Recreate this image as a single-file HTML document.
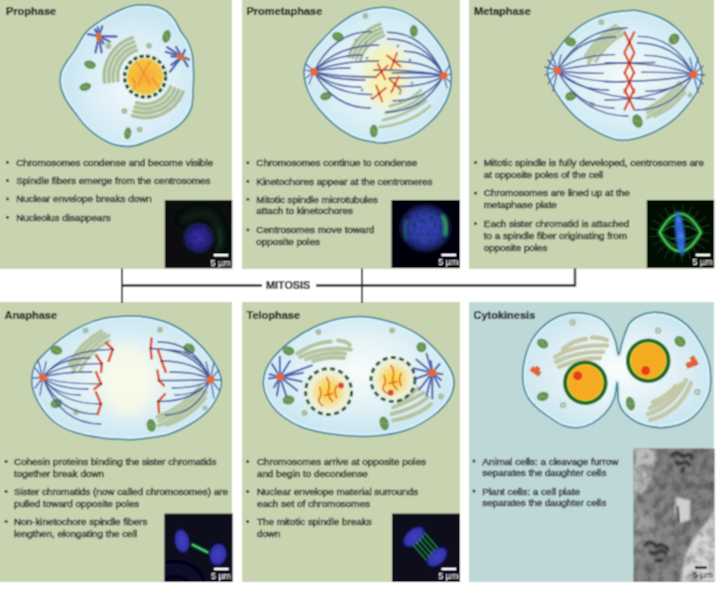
<!DOCTYPE html>
<html><head><meta charset="utf-8"><style>
html,body{margin:0;padding:0;background:#fff;}
svg{display:block;}

.ttl{font-family:"Liberation Sans",sans-serif;font-weight:bold;font-size:11px;fill:#161616;stroke:#161616;stroke-width:0.2px;}
.bt{font-family:"Liberation Sans",sans-serif;font-size:9.9px;fill:#2e2e2e;stroke:#2e2e2e;stroke-width:0.45px;}
.sb{font-family:"Liberation Sans",sans-serif;font-size:9px;fill:#fff;}
</style></head><body>
<svg width="720" height="594" viewBox="0 0 720 594">
<defs><filter id="soft" filterUnits="userSpaceOnUse" x="0" y="0" width="720" height="594"><feConvolveMatrix order="3" kernelMatrix="1 2 1 2 4 2 1 2 1" divisor="16" edgeMode="duplicate"/></filter></defs>
<g filter="url(#soft)"><rect x="0" y="0" width="720" height="594" fill="#fff"/>
<rect x="0" y="0" width="232" height="269" fill="#c8d4b0"/>
<rect x="242" y="0" width="218" height="269" fill="#c8d4b0"/>
<rect x="469" y="0" width="245" height="269" fill="#c8d4b0"/>
<rect x="0" y="302" width="232" height="280" fill="#c8d4b0"/>
<rect x="242" y="302" width="218" height="280" fill="#c8d4b0"/>
<rect x="469" y="302" width="245" height="280" fill="#bed8d8"/>
<text x="6" y="15" class="ttl">Prophase</text>
<text x="246.5" y="15" class="ttl">Prometaphase</text>
<text x="474" y="15" class="ttl">Metaphase</text>
<text x="4.5" y="319" class="ttl">Anaphase</text>
<text x="246.5" y="319" class="ttl">Telophase</text>
<text x="473.5" y="319" class="ttl">Cytokinesis</text>
<rect x="6.2" y="161.0" width="2.6" height="2.6" fill="#2e2e2e"/>
<text x="16.2" y="165.5" class="bt">Chromosomes condense and become visible</text>
<rect x="6.2" y="179.4" width="2.6" height="2.6" fill="#2e2e2e"/>
<text x="16.2" y="183.9" class="bt">Spindle fibers emerge from the centrosomes</text>
<rect x="6.2" y="197.7" width="2.6" height="2.6" fill="#2e2e2e"/>
<text x="16.2" y="202.2" class="bt">Nuclear envelope breaks down</text>
<rect x="6.2" y="216.0" width="2.6" height="2.6" fill="#2e2e2e"/>
<text x="16.2" y="220.5" class="bt">Nucleolus disappears</text>
<rect x="246.6" y="161.5" width="2.6" height="2.6" fill="#2e2e2e"/>
<text x="256.3" y="166.0" class="bt">Chromosomes continue to condense</text>
<rect x="246.6" y="180.0" width="2.6" height="2.6" fill="#2e2e2e"/>
<text x="256.3" y="184.5" class="bt">Kinetochores appear at the centromeres</text>
<rect x="246.6" y="198.0" width="2.6" height="2.6" fill="#2e2e2e"/>
<text x="256.3" y="202.5" class="bt">Mitotic spindle microtubules</text>
<text x="256.3" y="214.4" class="bt">attach to kinetochores</text>
<rect x="246.6" y="228.6" width="2.6" height="2.6" fill="#2e2e2e"/>
<text x="256.3" y="233.1" class="bt">Centrosomes move toward</text>
<text x="256.3" y="245.0" class="bt">opposite poles</text>
<rect x="474.2" y="161.2" width="2.6" height="2.6" fill="#2e2e2e"/>
<text x="483.8" y="165.7" class="bt">Mitotic spindle is fully developed, centrosomes are</text>
<text x="483.8" y="177.6" class="bt">at opposite poles of the cell</text>
<rect x="474.2" y="191.8" width="2.6" height="2.6" fill="#2e2e2e"/>
<text x="483.8" y="196.3" class="bt">Chromosomes are lined up at the</text>
<text x="483.8" y="208.2" class="bt">metaphase plate</text>
<rect x="474.2" y="222.4" width="2.6" height="2.6" fill="#2e2e2e"/>
<text x="483.8" y="226.9" class="bt">Each sister chromatid is attached</text>
<text x="483.8" y="238.8" class="bt">to a spindle fiber originating from</text>
<text x="483.8" y="250.7" class="bt">opposite poles</text>
<circle cx="6.1" cy="461.5" r="1.5" fill="#2e2e2e"/>
<text x="14" y="465.0" class="bt">Cohesin proteins binding the sister chromatids</text>
<text x="14" y="476.9" class="bt">together break down</text>
<circle cx="6.1" cy="491.5" r="1.5" fill="#2e2e2e"/>
<text x="14" y="495.0" class="bt">Sister chromatids (now called chromosomes) are</text>
<text x="14" y="506.9" class="bt">pulled toward opposite poles</text>
<circle cx="6.1" cy="521.5" r="1.5" fill="#2e2e2e"/>
<text x="14" y="525.0" class="bt">Non-kinetochore spindle fibers</text>
<text x="14" y="536.9" class="bt">lengthen, elongating the cell</text>
<circle cx="247.7" cy="461.5" r="1.5" fill="#2e2e2e"/>
<text x="256.9" y="465.0" class="bt">Chromosomes arrive at opposite poles</text>
<text x="256.9" y="476.9" class="bt">and begin to decondense</text>
<circle cx="247.7" cy="491.5" r="1.5" fill="#2e2e2e"/>
<text x="256.9" y="495.0" class="bt">Nuclear envelope material surrounds</text>
<text x="256.9" y="506.9" class="bt">each set of chromosomes</text>
<circle cx="247.7" cy="521.5" r="1.5" fill="#2e2e2e"/>
<text x="256.9" y="525.0" class="bt">The mitotic spindle breaks</text>
<text x="256.9" y="536.9" class="bt">down</text>
<circle cx="474" cy="461.0" r="1.5" fill="#2e2e2e"/>
<text x="482.3" y="464.5" class="bt">Animal cells: a cleavage furrow</text>
<text x="482.3" y="476.4" class="bt">separates the daughter cells</text>
<circle cx="474" cy="491.0" r="1.5" fill="#2e2e2e"/>
<text x="482.3" y="494.5" class="bt">Plant cells: a cell plate</text>
<text x="482.3" y="506.4" class="bt">separates the daughter cells</text>
<g stroke="#2b2b2b" fill="none">
<line x1="122" y1="268.5" x2="122" y2="303" stroke-width="2"/>
<line x1="362" y1="268.5" x2="362" y2="303" stroke-width="2"/>
<polyline points="122,285.5 262,285.5" stroke-width="2.4"/>
<polyline points="316,285.5 575,285.5 575,268.5" stroke-width="2.4"/>
</g>
<text x="266" y="288.5" class="ttl" style="font-size:10.8px">MITOSIS</text>
<defs>
<radialGradient id="g1" cx="0.5" cy="0.5" r="0.5"><stop offset="0" stop-color="#3b33b8"/><stop offset="0.6" stop-color="#2a2590"/><stop offset="1" stop-color="#101040" stop-opacity="0"/></radialGradient>
<radialGradient id="gb" cx="0.5" cy="0.5" r="0.5"><stop offset="0" stop-color="#3f55d8"/><stop offset="0.7" stop-color="#2d3cb0"/><stop offset="1" stop-color="#1a2070" stop-opacity="0"/></radialGradient>
<filter id="bl1" x="-50%" y="-50%" width="200%" height="200%"><feGaussianBlur stdDeviation="1.5"/></filter>
<filter id="bl2" x="-50%" y="-50%" width="200%" height="200%"><feGaussianBlur stdDeviation="0.8"/></filter>
<radialGradient id="cellg" cx="0.5" cy="0.5" r="0.6"><stop offset="0" stop-color="#f4fbf6"/><stop offset="0.45" stop-color="#dff1f6"/><stop offset="1" stop-color="#c3e2ee"/></radialGradient>
<radialGradient id="nucg" cx="0.5" cy="0.5" r="0.5"><stop offset="0" stop-color="#f6a93a"/><stop offset="1" stop-color="#f5c53f"/></radialGradient>
<radialGradient id="cg1" cx="0.55" cy="0.55" r="0.6"><stop offset="0" stop-color="#f1f9fb"/><stop offset="0.55" stop-color="#dbeef6"/><stop offset="1" stop-color="#c2e2f0"/></radialGradient>
<radialGradient id="cg2" cx="0.5" cy="0.5" r="0.6"><stop offset="0" stop-color="#f3faf8"/><stop offset="0.55" stop-color="#dcf0f6"/><stop offset="1" stop-color="#c2e2f0"/></radialGradient>
<radialGradient id="cg3" cx="0.5" cy="0.5" r="0.6"><stop offset="0" stop-color="#f3faf8"/><stop offset="0.55" stop-color="#dcf0f6"/><stop offset="1" stop-color="#c2e2f0"/></radialGradient>
<radialGradient id="cg4" cx="0.5" cy="0.5" r="0.6"><stop offset="0" stop-color="#f6fbf2"/><stop offset="0.5" stop-color="#def0f5"/><stop offset="1" stop-color="#c2e2f0"/></radialGradient>
<radialGradient id="cg5" cx="0.5" cy="0.45" r="0.6"><stop offset="0" stop-color="#f8fcfa"/><stop offset="0.5" stop-color="#e2f2f6"/><stop offset="1" stop-color="#c3e3f0"/></radialGradient>
<radialGradient id="cg6" cx="0.5" cy="0.5" r="0.6"><stop offset="0" stop-color="#fafdfd"/><stop offset="0.5" stop-color="#e2f1f5"/><stop offset="1" stop-color="#c5e3ee"/></radialGradient>
<radialGradient id="nucg" cx="0.5" cy="0.5" r="0.5"><stop offset="0" stop-color="#f4b840"/><stop offset="0.8" stop-color="#f3c848"/><stop offset="1" stop-color="#eed058"/></radialGradient>
<radialGradient id="nucg2" cx="0.5" cy="0.5" r="0.5"><stop offset="0" stop-color="#f8d22a"/><stop offset="0.45" stop-color="#f6dc80"/><stop offset="0.8" stop-color="#eef0d8"/><stop offset="1" stop-color="#e6f0e0"/></radialGradient>
<filter id="bl3" x="-50%" y="-50%" width="200%" height="200%"><feGaussianBlur stdDeviation="6"/></filter><radialGradient id="m1b" cx="0.5" cy="0.5" r="0.5"><stop offset="0" stop-color="#3a30a8"/><stop offset="0.55" stop-color="#2a2488"/><stop offset="0.85" stop-color="#1a2060" stop-opacity="0.8"/><stop offset="1" stop-color="#101830" stop-opacity="0"/></radialGradient>
<radialGradient id="m2b" cx="0.5" cy="0.5" r="0.5"><stop offset="0" stop-color="#3446b4"/><stop offset="0.6" stop-color="#2c3aa0"/><stop offset="0.85" stop-color="#1e2a78" stop-opacity="0.8"/><stop offset="1" stop-color="#101840" stop-opacity="0"/></radialGradient>
<radialGradient id="bb" cx="0.5" cy="0.5" r="0.5"><stop offset="0" stop-color="#4040c0"/><stop offset="0.7" stop-color="#3434a8"/><stop offset="1" stop-color="#1a1a70" stop-opacity="0"/></radialGradient>
<filter id="bl4" x="-50%" y="-50%" width="200%" height="200%"><feGaussianBlur stdDeviation="3"/></filter></defs>
<clipPath id="cpcg1"><path d="M133.5,5.4 C138.7,4.5 144.4,4.5 149.6,5.2 C154.8,5.9 160.4,7.5 164.5,9.8 C168.6,12.1 171.3,15.4 174.0,18.9 C176.7,22.4 178.2,27.0 180.6,31.0 C183.0,35.0 186.7,38.7 188.7,43.0 C190.7,47.3 191.9,51.3 192.7,56.6 C193.5,61.9 193.5,69.1 193.6,75.0 C193.7,80.9 193.4,86.5 193.0,92.0 C192.6,97.5 193.0,102.8 191.4,107.7 C189.8,112.6 186.7,117.4 183.3,121.2 C179.9,125.0 176.1,127.7 171.2,130.6 C166.3,133.5 160.0,136.1 153.7,138.7 C147.4,141.3 139.8,144.9 133.5,146.0 C127.2,147.1 121.7,146.4 116.0,145.0 C110.3,143.6 104.4,140.4 99.4,137.3 C94.4,134.2 90.0,130.7 86.0,126.6 C82.0,122.5 78.6,117.5 75.2,113.0 C71.8,108.5 68.2,104.1 65.8,99.6 C63.4,95.1 61.4,90.4 60.6,86.0 C59.8,81.6 60.0,77.0 61.0,73.0 C62.0,69.0 64.1,65.9 66.5,62.0 C68.9,58.1 72.0,54.8 75.2,49.8 C78.5,44.8 82.0,37.0 86.0,32.3 C90.0,27.6 94.0,25.1 99.4,21.5 C104.8,17.9 112.6,13.5 118.3,10.8 C124.0,8.1 128.3,6.3 133.5,5.4Z"/></clipPath><path d="M133.5,5.4 C138.7,4.5 144.4,4.5 149.6,5.2 C154.8,5.9 160.4,7.5 164.5,9.8 C168.6,12.1 171.3,15.4 174.0,18.9 C176.7,22.4 178.2,27.0 180.6,31.0 C183.0,35.0 186.7,38.7 188.7,43.0 C190.7,47.3 191.9,51.3 192.7,56.6 C193.5,61.9 193.5,69.1 193.6,75.0 C193.7,80.9 193.4,86.5 193.0,92.0 C192.6,97.5 193.0,102.8 191.4,107.7 C189.8,112.6 186.7,117.4 183.3,121.2 C179.9,125.0 176.1,127.7 171.2,130.6 C166.3,133.5 160.0,136.1 153.7,138.7 C147.4,141.3 139.8,144.9 133.5,146.0 C127.2,147.1 121.7,146.4 116.0,145.0 C110.3,143.6 104.4,140.4 99.4,137.3 C94.4,134.2 90.0,130.7 86.0,126.6 C82.0,122.5 78.6,117.5 75.2,113.0 C71.8,108.5 68.2,104.1 65.8,99.6 C63.4,95.1 61.4,90.4 60.6,86.0 C59.8,81.6 60.0,77.0 61.0,73.0 C62.0,69.0 64.1,65.9 66.5,62.0 C68.9,58.1 72.0,54.8 75.2,49.8 C78.5,44.8 82.0,37.0 86.0,32.3 C90.0,27.6 94.0,25.1 99.4,21.5 C104.8,17.9 112.6,13.5 118.3,10.8 C124.0,8.1 128.3,6.3 133.5,5.4Z" fill="url(#cg1)"/><path d="M133.5,5.4 C138.7,4.5 144.4,4.5 149.6,5.2 C154.8,5.9 160.4,7.5 164.5,9.8 C168.6,12.1 171.3,15.4 174.0,18.9 C176.7,22.4 178.2,27.0 180.6,31.0 C183.0,35.0 186.7,38.7 188.7,43.0 C190.7,47.3 191.9,51.3 192.7,56.6 C193.5,61.9 193.5,69.1 193.6,75.0 C193.7,80.9 193.4,86.5 193.0,92.0 C192.6,97.5 193.0,102.8 191.4,107.7 C189.8,112.6 186.7,117.4 183.3,121.2 C179.9,125.0 176.1,127.7 171.2,130.6 C166.3,133.5 160.0,136.1 153.7,138.7 C147.4,141.3 139.8,144.9 133.5,146.0 C127.2,147.1 121.7,146.4 116.0,145.0 C110.3,143.6 104.4,140.4 99.4,137.3 C94.4,134.2 90.0,130.7 86.0,126.6 C82.0,122.5 78.6,117.5 75.2,113.0 C71.8,108.5 68.2,104.1 65.8,99.6 C63.4,95.1 61.4,90.4 60.6,86.0 C59.8,81.6 60.0,77.0 61.0,73.0 C62.0,69.0 64.1,65.9 66.5,62.0 C68.9,58.1 72.0,54.8 75.2,49.8 C78.5,44.8 82.0,37.0 86.0,32.3 C90.0,27.6 94.0,25.1 99.4,21.5 C104.8,17.9 112.6,13.5 118.3,10.8 C124.0,8.1 128.3,6.3 133.5,5.4Z" fill="none" stroke="#d6f1fb" stroke-width="6" clip-path="url(#cpcg1)" opacity="0.9"/><path d="M133.5,5.4 C138.7,4.5 144.4,4.5 149.6,5.2 C154.8,5.9 160.4,7.5 164.5,9.8 C168.6,12.1 171.3,15.4 174.0,18.9 C176.7,22.4 178.2,27.0 180.6,31.0 C183.0,35.0 186.7,38.7 188.7,43.0 C190.7,47.3 191.9,51.3 192.7,56.6 C193.5,61.9 193.5,69.1 193.6,75.0 C193.7,80.9 193.4,86.5 193.0,92.0 C192.6,97.5 193.0,102.8 191.4,107.7 C189.8,112.6 186.7,117.4 183.3,121.2 C179.9,125.0 176.1,127.7 171.2,130.6 C166.3,133.5 160.0,136.1 153.7,138.7 C147.4,141.3 139.8,144.9 133.5,146.0 C127.2,147.1 121.7,146.4 116.0,145.0 C110.3,143.6 104.4,140.4 99.4,137.3 C94.4,134.2 90.0,130.7 86.0,126.6 C82.0,122.5 78.6,117.5 75.2,113.0 C71.8,108.5 68.2,104.1 65.8,99.6 C63.4,95.1 61.4,90.4 60.6,86.0 C59.8,81.6 60.0,77.0 61.0,73.0 C62.0,69.0 64.1,65.9 66.5,62.0 C68.9,58.1 72.0,54.8 75.2,49.8 C78.5,44.8 82.0,37.0 86.0,32.3 C90.0,27.6 94.0,25.1 99.4,21.5 C104.8,17.9 112.6,13.5 118.3,10.8 C124.0,8.1 128.3,6.3 133.5,5.4Z" fill="none" stroke="#3a7d90" stroke-width="1.5"/>
<path d="M117.9,80.4 A27.5,27.5 0 0 1 136.6,50.4" stroke="#adc097" stroke-width="3.6" fill="none" stroke-linecap="round" opacity="1"/><path d="M113.4,81.1 A32,32 0 0 1 135.2,46.2" stroke="#adc097" stroke-width="3.6" fill="none" stroke-linecap="round" opacity="1"/><path d="M109.0,81.7 A36.5,36.5 0 0 1 133.8,41.9" stroke="#adc097" stroke-width="3.6" fill="none" stroke-linecap="round" opacity="1"/><path d="M104.5,82.3 A41,41 0 0 1 132.4,37.6" stroke="#adc097" stroke-width="3.6" fill="none" stroke-linecap="round" opacity="1"/>
<path d="M170.6,86.9 A27.5,27.5 0 0 1 136.6,102.8" stroke="#adc097" stroke-width="3.6" fill="none" stroke-linecap="round" opacity="1"/><path d="M174.8,88.6 A32,32 0 0 1 135.2,107.0" stroke="#adc097" stroke-width="3.6" fill="none" stroke-linecap="round" opacity="1"/><path d="M178.9,90.3 A36.5,36.5 0 0 1 133.8,111.3" stroke="#adc097" stroke-width="3.6" fill="none" stroke-linecap="round" opacity="1"/><path d="M183.1,92.0 A41,41 0 0 1 132.4,115.6" stroke="#adc097" stroke-width="3.6" fill="none" stroke-linecap="round" opacity="1"/>
<g transform="rotate(15 90 64.6)"><ellipse cx="90" cy="64.6" rx="6" ry="4" fill="#68944f"/><path d="M86.4,64.6 q1.7999999999999998,-2.0 3.5999999999999996,0 t3.5999999999999996,0" stroke="#88ac78" stroke-width="0.9" fill="none"/></g>
<g transform="rotate(15 166.5 36.4)"><ellipse cx="166.5" cy="36.4" rx="4" ry="6.5" fill="#68944f"/><path d="M164.1,36.4 q1.2,-3.25 2.4,0 t2.4,0" stroke="#88ac78" stroke-width="0.9" fill="none"/></g>
<g transform="rotate(-15 85.3 86.8)"><ellipse cx="85.3" cy="86.8" rx="6" ry="4" fill="#68944f"/><path d="M81.7,86.8 q1.7999999999999998,-2.0 3.5999999999999996,0 t3.5999999999999996,0" stroke="#88ac78" stroke-width="0.9" fill="none"/></g>
<g transform="rotate(10 127.7 133.3)"><ellipse cx="127.7" cy="133.3" rx="3.5" ry="6" fill="#68944f"/><path d="M125.60000000000001,133.3 q1.05,-3.0 2.1,0 t2.1,0" stroke="#88ac78" stroke-width="0.9" fill="none"/></g>
<circle cx="149" cy="45.8" r="3" fill="#a7bfa0"/>
<circle cx="108.4" cy="45.9" r="3" fill="#a7bfa0"/>
<circle cx="124.4" cy="111" r="3" fill="#a7bfa0"/>
<circle cx="139.6" cy="129.6" r="3" fill="#a7bfa0"/>
<circle cx="145.1" cy="76.6" r="20.5" fill="#eef6e0"/>
<circle cx="145.1" cy="76.6" r="18" fill="url(#nucg)"/>
<g stroke="#f08a30" stroke-width="1.6" fill="none" stroke-linecap="round" opacity="0.8"><path d="M136,62 Q143,70 150,84"/><path d="M150,62 Q143,72 138,86"/><path d="M132,78 Q137,84 134,90"/><path d="M152,78 Q156,84 160,88"/></g>
<circle cx="145.1" cy="76.6" r="20.5" fill="none" stroke="#2b552a" stroke-width="3.4" stroke-dasharray="4.2 2.25"/>
<line x1="98.9" y1="36.2" x2="94.8" y2="29.4" stroke="#4d5fab" stroke-width="2.3" stroke-linecap="round"/><line x1="98.9" y1="36.2" x2="97.8" y2="27.4" stroke="#4d5fab" stroke-width="2.3" stroke-linecap="round"/><line x1="98.9" y1="36.2" x2="102.2" y2="26.4" stroke="#4d5fab" stroke-width="2.3" stroke-linecap="round"/><line x1="98.9" y1="36.2" x2="88" y2="34.1" stroke="#4d5fab" stroke-width="2.3" stroke-linecap="round"/><line x1="98.9" y1="36.2" x2="116.4" y2="36.5" stroke="#4d5fab" stroke-width="2.3" stroke-linecap="round"/><line x1="98.9" y1="36.2" x2="109.6" y2="41.5" stroke="#4d5fab" stroke-width="2.3" stroke-linecap="round"/><line x1="98.9" y1="36.2" x2="103.6" y2="43.6" stroke="#4d5fab" stroke-width="2.3" stroke-linecap="round"/><line x1="98.9" y1="36.2" x2="95.5" y2="52.3" stroke="#4d5fab" stroke-width="2.3" stroke-linecap="round"/><line x1="98.9" y1="36.2" x2="101.5" y2="52.3" stroke="#4d5fab" stroke-width="2.3" stroke-linecap="round"/>
<ellipse cx="98.9" cy="37" rx="2.8" ry="4.8" fill="#e8702e" opacity="0.9"/>
<line x1="182" y1="56.6" x2="167.2" y2="47.2" stroke="#4d5fab" stroke-width="2.3" stroke-linecap="round"/><line x1="182" y1="56.6" x2="165.9" y2="52" stroke="#4d5fab" stroke-width="2.3" stroke-linecap="round"/><line x1="182" y1="56.6" x2="171.3" y2="56.6" stroke="#4d5fab" stroke-width="2.3" stroke-linecap="round"/><line x1="182" y1="56.6" x2="171.3" y2="64.9" stroke="#4d5fab" stroke-width="2.3" stroke-linecap="round"/><line x1="182" y1="56.6" x2="170" y2="71.6" stroke="#4d5fab" stroke-width="2.3" stroke-linecap="round"/><line x1="182" y1="56.6" x2="187.6" y2="66.2" stroke="#4d5fab" stroke-width="2.3" stroke-linecap="round"/><line x1="182" y1="56.6" x2="184.9" y2="50" stroke="#4d5fab" stroke-width="2.3" stroke-linecap="round"/><line x1="182" y1="56.6" x2="189" y2="59.5" stroke="#4d5fab" stroke-width="2.3" stroke-linecap="round"/><line x1="182" y1="56.6" x2="176" y2="47" stroke="#4d5fab" stroke-width="2.3" stroke-linecap="round"/>
<ellipse cx="181" cy="57" rx="4.8" ry="2.8" transform="rotate(25 181 57)" fill="#e8702e" opacity="0.9"/>
<clipPath id="cpcg2"><path d="M380.0,7.4 C388.0,7.1 396.8,9.0 403.7,11.6 C410.6,14.2 416.0,18.5 421.2,22.9 C426.4,27.2 430.6,32.5 434.7,37.7 C438.8,42.9 442.8,48.2 445.5,53.9 C448.2,59.6 450.2,65.7 450.9,72.0 C451.6,78.3 451.1,85.8 449.5,92.0 C447.9,98.2 445.0,104.1 441.4,109.5 C437.8,114.9 433.2,119.8 428.0,124.3 C422.8,128.8 417.1,133.4 410.4,136.4 C403.6,139.4 393.2,141.5 387.5,142.5 C381.8,143.5 381.2,143.3 375.9,142.5 C370.6,141.7 362.4,140.6 355.6,137.8 C348.9,135.0 341.4,130.3 335.4,125.6 C329.3,120.9 323.8,115.1 319.3,109.5 C314.8,103.9 311.1,98.2 308.5,92.0 C305.9,85.8 304.0,77.8 304.0,72.0 C304.0,66.2 305.9,62.1 308.5,57.3 C311.1,52.5 314.8,48.1 319.3,43.1 C323.8,38.1 329.3,31.9 335.4,27.0 C341.4,22.1 348.2,16.8 355.6,13.5 C363.0,10.2 372.0,7.7 380.0,7.4Z"/></clipPath><path d="M380.0,7.4 C388.0,7.1 396.8,9.0 403.7,11.6 C410.6,14.2 416.0,18.5 421.2,22.9 C426.4,27.2 430.6,32.5 434.7,37.7 C438.8,42.9 442.8,48.2 445.5,53.9 C448.2,59.6 450.2,65.7 450.9,72.0 C451.6,78.3 451.1,85.8 449.5,92.0 C447.9,98.2 445.0,104.1 441.4,109.5 C437.8,114.9 433.2,119.8 428.0,124.3 C422.8,128.8 417.1,133.4 410.4,136.4 C403.6,139.4 393.2,141.5 387.5,142.5 C381.8,143.5 381.2,143.3 375.9,142.5 C370.6,141.7 362.4,140.6 355.6,137.8 C348.9,135.0 341.4,130.3 335.4,125.6 C329.3,120.9 323.8,115.1 319.3,109.5 C314.8,103.9 311.1,98.2 308.5,92.0 C305.9,85.8 304.0,77.8 304.0,72.0 C304.0,66.2 305.9,62.1 308.5,57.3 C311.1,52.5 314.8,48.1 319.3,43.1 C323.8,38.1 329.3,31.9 335.4,27.0 C341.4,22.1 348.2,16.8 355.6,13.5 C363.0,10.2 372.0,7.7 380.0,7.4Z" fill="url(#cg2)"/><path d="M380.0,7.4 C388.0,7.1 396.8,9.0 403.7,11.6 C410.6,14.2 416.0,18.5 421.2,22.9 C426.4,27.2 430.6,32.5 434.7,37.7 C438.8,42.9 442.8,48.2 445.5,53.9 C448.2,59.6 450.2,65.7 450.9,72.0 C451.6,78.3 451.1,85.8 449.5,92.0 C447.9,98.2 445.0,104.1 441.4,109.5 C437.8,114.9 433.2,119.8 428.0,124.3 C422.8,128.8 417.1,133.4 410.4,136.4 C403.6,139.4 393.2,141.5 387.5,142.5 C381.8,143.5 381.2,143.3 375.9,142.5 C370.6,141.7 362.4,140.6 355.6,137.8 C348.9,135.0 341.4,130.3 335.4,125.6 C329.3,120.9 323.8,115.1 319.3,109.5 C314.8,103.9 311.1,98.2 308.5,92.0 C305.9,85.8 304.0,77.8 304.0,72.0 C304.0,66.2 305.9,62.1 308.5,57.3 C311.1,52.5 314.8,48.1 319.3,43.1 C323.8,38.1 329.3,31.9 335.4,27.0 C341.4,22.1 348.2,16.8 355.6,13.5 C363.0,10.2 372.0,7.7 380.0,7.4Z" fill="none" stroke="#d6f1fb" stroke-width="6" clip-path="url(#cpcg2)" opacity="0.9"/><path d="M380.0,7.4 C388.0,7.1 396.8,9.0 403.7,11.6 C410.6,14.2 416.0,18.5 421.2,22.9 C426.4,27.2 430.6,32.5 434.7,37.7 C438.8,42.9 442.8,48.2 445.5,53.9 C448.2,59.6 450.2,65.7 450.9,72.0 C451.6,78.3 451.1,85.8 449.5,92.0 C447.9,98.2 445.0,104.1 441.4,109.5 C437.8,114.9 433.2,119.8 428.0,124.3 C422.8,128.8 417.1,133.4 410.4,136.4 C403.6,139.4 393.2,141.5 387.5,142.5 C381.8,143.5 381.2,143.3 375.9,142.5 C370.6,141.7 362.4,140.6 355.6,137.8 C348.9,135.0 341.4,130.3 335.4,125.6 C329.3,120.9 323.8,115.1 319.3,109.5 C314.8,103.9 311.1,98.2 308.5,92.0 C305.9,85.8 304.0,77.8 304.0,72.0 C304.0,66.2 305.9,62.1 308.5,57.3 C311.1,52.5 314.8,48.1 319.3,43.1 C323.8,38.1 329.3,31.9 335.4,27.0 C341.4,22.1 348.2,16.8 355.6,13.5 C363.0,10.2 372.0,7.7 380.0,7.4Z" fill="none" stroke="#3a7d90" stroke-width="1.5"/>
<ellipse cx="386" cy="75" rx="20" ry="30" fill="#f8f0a8" opacity="0.9" filter="url(#bl3)"/>
<path d="M360.4,60.1 A36,36 0 0 1 383.9,35.8" stroke="#a9bd92" stroke-width="3" fill="none" stroke-linecap="round" opacity="1"/><path d="M356.5,59.0 A40,40 0 0 1 382.6,32.0" stroke="#a9bd92" stroke-width="3" fill="none" stroke-linecap="round" opacity="1"/><path d="M352.7,57.9 A44,44 0 0 1 381.4,28.2" stroke="#a9bd92" stroke-width="3" fill="none" stroke-linecap="round" opacity="1"/><path d="M348.9,56.8 A48,48 0 0 1 380.2,24.3" stroke="#a9bd92" stroke-width="3" fill="none" stroke-linecap="round" opacity="1"/>
<g stroke="#b3c49c" stroke-width="3" fill="none" stroke-linecap="round"><path d="M383,120 Q405,116 426,101"/><path d="M386,113 Q408,108 424,95"/><path d="M390,106 Q410,102 421,90"/><path d="M380,127 Q410,124 430,106"/></g>
<g transform="rotate(20 338 36.8)"><ellipse cx="338" cy="36.8" rx="6" ry="4.5" fill="#68944f"/><path d="M334.4,36.8 q1.7999999999999998,-2.25 3.5999999999999996,0 t3.5999999999999996,0" stroke="#88ac78" stroke-width="0.9" fill="none"/></g>
<g transform="rotate(0 413.8 31)"><ellipse cx="413.8" cy="31" rx="4" ry="6" fill="#68944f"/><path d="M411.40000000000003,31 q1.2,-3.0 2.4,0 t2.4,0" stroke="#88ac78" stroke-width="0.9" fill="none"/></g>
<g transform="rotate(-20 326 96)"><ellipse cx="326" cy="96" rx="6" ry="4" fill="#68944f"/><path d="M322.4,96 q1.7999999999999998,-2.0 3.5999999999999996,0 t3.5999999999999996,0" stroke="#88ac78" stroke-width="0.9" fill="none"/></g>
<g transform="rotate(0 373.8 131)"><ellipse cx="373.8" cy="131" rx="4" ry="6.5" fill="#68944f"/><path d="M371.40000000000003,131 q1.2,-3.25 2.4,0 t2.4,0" stroke="#88ac78" stroke-width="0.9" fill="none"/></g>
<circle cx="365.4" cy="16" r="3" fill="#a7bfa0"/>
<circle cx="356" cy="40" r="1.5" fill="#7fa69a"/>
<circle cx="366" cy="43" r="1.5" fill="#7fa69a"/>
<circle cx="367" cy="58" r="1.5" fill="#7fa69a"/>
<circle cx="362" cy="90" r="1.5" fill="#7fa69a"/>
<circle cx="372" cy="98" r="1.5" fill="#7fa69a"/>
<circle cx="400" cy="101" r="1.5" fill="#7fa69a"/>
<circle cx="398" cy="46" r="1.5" fill="#7fa69a"/>
<circle cx="410" cy="60" r="1.5" fill="#7fa69a"/>
<circle cx="400" cy="93" r="1.5" fill="#7fa69a"/>
<circle cx="412" cy="83" r="1.5" fill="#7fa69a"/>
<path d="M313.9,71.8 Q333.9,31.5 371,31.5" stroke="#44529a" stroke-width="1.5" fill="none" stroke-linecap="round"/><path d="M313.9,71.8 Q336.5,45.0 378.6,45" stroke="#44529a" stroke-width="1.5" fill="none" stroke-linecap="round"/><path d="M313.9,71.8 Q330.7,55.0 362,55" stroke="#44529a" stroke-width="1.5" fill="none" stroke-linecap="round"/><path d="M313.9,71.8 Q336.5,61.0 378.6,61" stroke="#44529a" stroke-width="1.5" fill="none" stroke-linecap="round"/><path d="M313.9,71.8 Q326.5,68.0 350,68" stroke="#44529a" stroke-width="1.5" fill="none" stroke-linecap="round"/><path d="M313.9,71.8 Q335.6,77.0 376,77" stroke="#44529a" stroke-width="1.5" fill="none" stroke-linecap="round"/><path d="M313.9,71.8 Q331.8,80.0 365,80" stroke="#44529a" stroke-width="1.5" fill="none" stroke-linecap="round"/><path d="M313.9,71.8 Q330.4,87.2 361,87.2" stroke="#44529a" stroke-width="1.5" fill="none" stroke-linecap="round"/><path d="M313.9,71.8 Q334.2,94.6 371.8,94.6" stroke="#44529a" stroke-width="1.5" fill="none" stroke-linecap="round"/><path d="M313.9,71.8 Q333.7,108.0 370.5,108" stroke="#44529a" stroke-width="1.5" fill="none" stroke-linecap="round"/>
<path d="M443.7,75.6 Q424.0,32.3 387.5,32.3" stroke="#44529a" stroke-width="1.5" fill="none" stroke-linecap="round"/><path d="M443.7,75.6 Q424.0,39.0 387.5,39" stroke="#44529a" stroke-width="1.5" fill="none" stroke-linecap="round"/><path d="M443.7,75.6 Q429.9,51.2 404.4,51.2" stroke="#44529a" stroke-width="1.5" fill="none" stroke-linecap="round"/><path d="M443.7,75.6 Q426.3,61.3 394,61.3" stroke="#44529a" stroke-width="1.5" fill="none" stroke-linecap="round"/><path d="M443.7,75.6 Q425.6,72.8 392,72.8" stroke="#44529a" stroke-width="1.5" fill="none" stroke-linecap="round"/><path d="M443.7,75.6 Q419.3,70.0 374,70" stroke="#44529a" stroke-width="1.5" fill="none" stroke-linecap="round"/><path d="M443.7,75.6 Q424.9,78.0 390,78" stroke="#44529a" stroke-width="1.5" fill="none" stroke-linecap="round"/><path d="M443.7,75.6 Q427.4,86.6 397,86.6" stroke="#44529a" stroke-width="1.5" fill="none" stroke-linecap="round"/><path d="M443.7,75.6 Q426.0,100.7 393,100.7" stroke="#44529a" stroke-width="1.5" fill="none" stroke-linecap="round"/><path d="M443.7,75.6 Q423.5,112.0 386,112" stroke="#44529a" stroke-width="1.5" fill="none" stroke-linecap="round"/>
<line x1="313.9" y1="71.8" x2="306" y2="64" stroke="#4d5fab" stroke-width="1.2" stroke-linecap="round"/><line x1="313.9" y1="71.8" x2="305" y2="70" stroke="#4d5fab" stroke-width="1.2" stroke-linecap="round"/><line x1="313.9" y1="71.8" x2="306" y2="78" stroke="#4d5fab" stroke-width="1.2" stroke-linecap="round"/><line x1="313.9" y1="71.8" x2="309" y2="84" stroke="#4d5fab" stroke-width="1.2" stroke-linecap="round"/>
<line x1="443.7" y1="75.6" x2="449" y2="66" stroke="#4d5fab" stroke-width="1.2" stroke-linecap="round"/><line x1="443.7" y1="75.6" x2="451" y2="74" stroke="#4d5fab" stroke-width="1.2" stroke-linecap="round"/><line x1="443.7" y1="75.6" x2="450" y2="82" stroke="#4d5fab" stroke-width="1.2" stroke-linecap="round"/><line x1="443.7" y1="75.6" x2="447" y2="88" stroke="#4d5fab" stroke-width="1.2" stroke-linecap="round"/>
<ellipse cx="313.9" cy="71.8" rx="4.2" ry="3.5" transform="rotate(40 313.9 71.8)" fill="#e8682e"/>
<ellipse cx="443.7" cy="75.6" rx="4.2" ry="3.5" transform="rotate(-30 443.7 75.6)" fill="#e8682e"/>
<g transform="rotate(-15 393.9 61)" stroke="#de4a26" stroke-width="1.8" stroke-linecap="round" fill="none"><path d="M388.9,54 Q393.9,61 398.9,68"/><path d="M398.9,54 Q393.9,61 388.9,68"/><circle cx="393.9" cy="61" r="1.2" fill="#8a2a1a" stroke="none"/></g>
<g transform="rotate(10 381.5 71.6)" stroke="#de4a26" stroke-width="1.8" stroke-linecap="round" fill="none"><path d="M376.5,64.6 Q381.5,71.6 386.5,78.6"/><path d="M386.5,64.6 Q381.5,71.6 376.5,78.6"/><circle cx="381.5" cy="71.6" r="1.2" fill="#8a2a1a" stroke="none"/></g>
<g transform="rotate(-10 395 84.5)" stroke="#de4a26" stroke-width="1.8" stroke-linecap="round" fill="none"><path d="M390,77.5 Q395,84.5 400,91.5"/><path d="M400,77.5 Q395,84.5 390,91.5"/><circle cx="395" cy="84.5" r="1.2" fill="#8a2a1a" stroke="none"/></g>
<g transform="rotate(15 379.2 93.4)" stroke="#de4a26" stroke-width="1.8" stroke-linecap="round" fill="none"><path d="M374.2,86.4 Q379.2,93.4 384.2,100.4"/><path d="M384.2,86.4 Q379.2,93.4 374.2,100.4"/><circle cx="379.2" cy="93.4" r="1.2" fill="#8a2a1a" stroke="none"/></g>
<clipPath id="cpcg3"><path d="M630.0,10.5 C635.5,10.1 635.1,10.0 640.2,11.2 C645.3,12.4 654.3,14.7 660.4,17.5 C666.5,20.4 671.9,24.0 676.6,28.3 C681.3,32.6 685.3,38.1 688.7,43.1 C692.1,48.1 694.6,52.9 696.8,58.0 C699.0,63.1 701.8,68.3 702.0,73.5 C702.2,78.7 700.6,84.0 698.2,89.3 C695.8,94.6 691.9,100.0 687.4,105.4 C682.9,110.8 677.9,116.7 671.2,121.6 C664.5,126.5 655.4,131.9 647.0,135.0 C638.6,138.1 629.1,140.7 620.9,140.3 C612.7,139.9 605.2,136.0 598.0,132.4 C590.8,128.8 583.6,123.9 577.7,118.9 C571.9,114.0 567.2,108.3 562.9,102.7 C558.6,97.1 554.6,90.6 552.1,85.2 C549.6,79.8 546.7,76.4 547.6,70.5 C548.5,64.6 553.8,55.8 557.5,49.9 C561.2,44.0 564.6,39.7 569.6,35.0 C574.6,30.3 580.9,25.2 587.2,21.6 C593.5,18.0 600.3,15.3 607.4,13.5 C614.5,11.7 624.5,10.9 630.0,10.5Z"/></clipPath><path d="M630.0,10.5 C635.5,10.1 635.1,10.0 640.2,11.2 C645.3,12.4 654.3,14.7 660.4,17.5 C666.5,20.4 671.9,24.0 676.6,28.3 C681.3,32.6 685.3,38.1 688.7,43.1 C692.1,48.1 694.6,52.9 696.8,58.0 C699.0,63.1 701.8,68.3 702.0,73.5 C702.2,78.7 700.6,84.0 698.2,89.3 C695.8,94.6 691.9,100.0 687.4,105.4 C682.9,110.8 677.9,116.7 671.2,121.6 C664.5,126.5 655.4,131.9 647.0,135.0 C638.6,138.1 629.1,140.7 620.9,140.3 C612.7,139.9 605.2,136.0 598.0,132.4 C590.8,128.8 583.6,123.9 577.7,118.9 C571.9,114.0 567.2,108.3 562.9,102.7 C558.6,97.1 554.6,90.6 552.1,85.2 C549.6,79.8 546.7,76.4 547.6,70.5 C548.5,64.6 553.8,55.8 557.5,49.9 C561.2,44.0 564.6,39.7 569.6,35.0 C574.6,30.3 580.9,25.2 587.2,21.6 C593.5,18.0 600.3,15.3 607.4,13.5 C614.5,11.7 624.5,10.9 630.0,10.5Z" fill="url(#cg3)"/><path d="M630.0,10.5 C635.5,10.1 635.1,10.0 640.2,11.2 C645.3,12.4 654.3,14.7 660.4,17.5 C666.5,20.4 671.9,24.0 676.6,28.3 C681.3,32.6 685.3,38.1 688.7,43.1 C692.1,48.1 694.6,52.9 696.8,58.0 C699.0,63.1 701.8,68.3 702.0,73.5 C702.2,78.7 700.6,84.0 698.2,89.3 C695.8,94.6 691.9,100.0 687.4,105.4 C682.9,110.8 677.9,116.7 671.2,121.6 C664.5,126.5 655.4,131.9 647.0,135.0 C638.6,138.1 629.1,140.7 620.9,140.3 C612.7,139.9 605.2,136.0 598.0,132.4 C590.8,128.8 583.6,123.9 577.7,118.9 C571.9,114.0 567.2,108.3 562.9,102.7 C558.6,97.1 554.6,90.6 552.1,85.2 C549.6,79.8 546.7,76.4 547.6,70.5 C548.5,64.6 553.8,55.8 557.5,49.9 C561.2,44.0 564.6,39.7 569.6,35.0 C574.6,30.3 580.9,25.2 587.2,21.6 C593.5,18.0 600.3,15.3 607.4,13.5 C614.5,11.7 624.5,10.9 630.0,10.5Z" fill="none" stroke="#d6f1fb" stroke-width="6" clip-path="url(#cpcg3)" opacity="0.9"/><path d="M630.0,10.5 C635.5,10.1 635.1,10.0 640.2,11.2 C645.3,12.4 654.3,14.7 660.4,17.5 C666.5,20.4 671.9,24.0 676.6,28.3 C681.3,32.6 685.3,38.1 688.7,43.1 C692.1,48.1 694.6,52.9 696.8,58.0 C699.0,63.1 701.8,68.3 702.0,73.5 C702.2,78.7 700.6,84.0 698.2,89.3 C695.8,94.6 691.9,100.0 687.4,105.4 C682.9,110.8 677.9,116.7 671.2,121.6 C664.5,126.5 655.4,131.9 647.0,135.0 C638.6,138.1 629.1,140.7 620.9,140.3 C612.7,139.9 605.2,136.0 598.0,132.4 C590.8,128.8 583.6,123.9 577.7,118.9 C571.9,114.0 567.2,108.3 562.9,102.7 C558.6,97.1 554.6,90.6 552.1,85.2 C549.6,79.8 546.7,76.4 547.6,70.5 C548.5,64.6 553.8,55.8 557.5,49.9 C561.2,44.0 564.6,39.7 569.6,35.0 C574.6,30.3 580.9,25.2 587.2,21.6 C593.5,18.0 600.3,15.3 607.4,13.5 C614.5,11.7 624.5,10.9 630.0,10.5Z" fill="none" stroke="#3a7d90" stroke-width="1.5"/>
<g stroke="#b5c6a0" stroke-width="3.4" fill="none" stroke-linecap="round"><path d="M585.6,55.6 Q597.3,36.9 616.0,25.2"/><path d="M588.0,58.5 Q599.8,39.5 618.8,27.7"/><path d="M588.4,63.1 Q602.0,42.5 622.6,29.0"/><path d="M595.5,61.3 Q605.5,44.2 622.5,34.3"/></g>
<g stroke="#b5c6a0" stroke-width="3.4" fill="none" stroke-linecap="round"><path d="M645.4,109.6 Q665.5,100.0 679.2,82.6"/><path d="M647.5,112.7 Q667.7,102.9 681.7,85.3"/><path d="M647.4,117.4 Q669.5,106.1 685.4,87.0"/><path d="M654.6,116.3 Q672.8,108.2 684.7,92.3"/></g>
<g transform="rotate(20 570.3 41.8)"><ellipse cx="570.3" cy="41.8" rx="6" ry="4.5" fill="#68944f"/><path d="M566.6999999999999,41.8 q1.7999999999999998,-2.25 3.5999999999999996,0 t3.5999999999999996,0" stroke="#88ac78" stroke-width="0.9" fill="none"/></g>
<g transform="rotate(40 674 39)"><ellipse cx="674" cy="39" rx="5" ry="6" fill="#68944f"/><path d="M671.0,39 q1.5,-3.0 3.0,0 t3.0,0" stroke="#88ac78" stroke-width="0.9" fill="none"/></g>
<g transform="rotate(-20 571 96)"><ellipse cx="571" cy="96" rx="6" ry="4.5" fill="#68944f"/><path d="M567.4,96 q1.7999999999999998,-2.25 3.5999999999999996,0 t3.5999999999999996,0" stroke="#88ac78" stroke-width="0.9" fill="none"/></g>
<g transform="rotate(-20 637.5 121)"><ellipse cx="637.5" cy="121" rx="5" ry="7" fill="#68944f"/><path d="M634.5,121 q1.5,-3.5 3.0,0 t3.0,0" stroke="#88ac78" stroke-width="0.9" fill="none"/></g>
<circle cx="601.3" cy="22.2" r="3" fill="#a7bfa0"/>
<circle cx="591.9" cy="104.8" r="3" fill="#a7bfa0"/>
<circle cx="690" cy="95" r="2.5" fill="#a7bfa0"/>
<path d="M557.5,70.5 Q581.8,28.0 627,28" stroke="#44529a" stroke-width="1.3" fill="none" stroke-linecap="round"/><path d="M557.5,70.5 Q577.8,37.0 615.5,37" stroke="#44529a" stroke-width="1.3" fill="none" stroke-linecap="round"/><path d="M557.5,70.5 Q577.6,54.6 614.8,54.6" stroke="#44529a" stroke-width="1.3" fill="none" stroke-linecap="round"/><path d="M557.5,70.5 Q591.6,62.5 655,62.5" stroke="#44529a" stroke-width="1.3" fill="none" stroke-linecap="round"/><path d="M557.5,70.5 Q573.5,73.4 603.3,73.4" stroke="#44529a" stroke-width="1.3" fill="none" stroke-linecap="round"/><path d="M557.5,70.5 Q580.6,81.8 623.6,81.8" stroke="#44529a" stroke-width="1.3" fill="none" stroke-linecap="round"/><path d="M557.5,70.5 Q575.4,90.0 608.7,90" stroke="#44529a" stroke-width="1.3" fill="none" stroke-linecap="round"/><path d="M557.5,70.5 Q591.6,99.4 655,99.4" stroke="#44529a" stroke-width="1.3" fill="none" stroke-linecap="round"/><path d="M557.5,70.5 Q577.3,108.0 614,108" stroke="#44529a" stroke-width="1.3" fill="none" stroke-linecap="round"/><path d="M557.5,70.5 Q582.2,116.0 628,116" stroke="#44529a" stroke-width="1.3" fill="none" stroke-linecap="round"/>
<path d="M693.5,74.5 Q674.1,36.4 638.2,36.4" stroke="#44529a" stroke-width="1.3" fill="none" stroke-linecap="round"/><path d="M693.5,74.5 Q673.9,43.0 637.5,43" stroke="#44529a" stroke-width="1.3" fill="none" stroke-linecap="round"/><path d="M693.5,74.5 Q676.3,55.3 644.3,55.3" stroke="#44529a" stroke-width="1.3" fill="none" stroke-linecap="round"/><path d="M693.5,74.5 Q662.5,62.7 605,62.7" stroke="#44529a" stroke-width="1.3" fill="none" stroke-linecap="round"/><path d="M693.5,74.5 Q675.3,72.1 641.6,72.1" stroke="#44529a" stroke-width="1.3" fill="none" stroke-linecap="round"/><path d="M693.5,74.5 Q662.5,81.8 605,81.8" stroke="#44529a" stroke-width="1.3" fill="none" stroke-linecap="round"/><path d="M693.5,74.5 Q676.7,91.3 645.6,91.3" stroke="#44529a" stroke-width="1.3" fill="none" stroke-linecap="round"/><path d="M693.5,74.5 Q662.5,100.0 605,100" stroke="#44529a" stroke-width="1.3" fill="none" stroke-linecap="round"/><path d="M693.5,74.5 Q673.4,110.0 636,110" stroke="#44529a" stroke-width="1.3" fill="none" stroke-linecap="round"/>
<line x1="557.5" y1="70.5" x2="551" y2="52" stroke="#4d5fab" stroke-width="1.3" stroke-linecap="round"/><line x1="557.5" y1="70.5" x2="548" y2="60" stroke="#4d5fab" stroke-width="1.3" stroke-linecap="round"/><line x1="557.5" y1="70.5" x2="545" y2="67" stroke="#4d5fab" stroke-width="1.3" stroke-linecap="round"/><line x1="557.5" y1="70.5" x2="545" y2="75" stroke="#4d5fab" stroke-width="1.3" stroke-linecap="round"/><line x1="557.5" y1="70.5" x2="548" y2="84" stroke="#4d5fab" stroke-width="1.3" stroke-linecap="round"/><line x1="557.5" y1="70.5" x2="553" y2="91" stroke="#4d5fab" stroke-width="1.3" stroke-linecap="round"/><line x1="557.5" y1="70.5" x2="561" y2="55" stroke="#4d5fab" stroke-width="1.3" stroke-linecap="round"/>
<line x1="693.5" y1="74.5" x2="698" y2="58" stroke="#4d5fab" stroke-width="1.3" stroke-linecap="round"/><line x1="693.5" y1="74.5" x2="703" y2="66" stroke="#4d5fab" stroke-width="1.3" stroke-linecap="round"/><line x1="693.5" y1="74.5" x2="705" y2="75" stroke="#4d5fab" stroke-width="1.3" stroke-linecap="round"/><line x1="693.5" y1="74.5" x2="703" y2="84" stroke="#4d5fab" stroke-width="1.3" stroke-linecap="round"/><line x1="693.5" y1="74.5" x2="698" y2="92" stroke="#4d5fab" stroke-width="1.3" stroke-linecap="round"/><line x1="693.5" y1="74.5" x2="690" y2="58" stroke="#4d5fab" stroke-width="1.3" stroke-linecap="round"/>
<ellipse cx="557.5" cy="70.5" rx="4.2" ry="3.5" transform="rotate(30 557.5 70.5)" fill="#e8682e"/>
<ellipse cx="693.5" cy="74.5" rx="4.2" ry="3.5" transform="rotate(-30 693.5 74.5)" fill="#e8682e"/>
<g transform="rotate(0 629.4 42.2)" stroke="#de4a26" stroke-width="2.3" stroke-linecap="round" fill="none"><path d="M624.6,32.2 Q629.4,42.2 634.1999999999999,52.2"/><path d="M634.1999999999999,32.2 Q629.4,42.2 624.6,52.2"/><circle cx="629.4" cy="42.2" r="1.2" fill="#8a2a1a" stroke="none"/></g>
<g transform="rotate(0 629.4 63)" stroke="#de4a26" stroke-width="2.3" stroke-linecap="round" fill="none"><path d="M624.6,53 Q629.4,63 634.1999999999999,73"/><path d="M634.1999999999999,53 Q629.4,63 624.6,73"/><circle cx="629.4" cy="63" r="1.2" fill="#8a2a1a" stroke="none"/></g>
<g transform="rotate(0 629.4 82.3)" stroke="#de4a26" stroke-width="2.3" stroke-linecap="round" fill="none"><path d="M624.6,72.3 Q629.4,82.3 634.1999999999999,92.3"/><path d="M634.1999999999999,72.3 Q629.4,82.3 624.6,92.3"/><circle cx="629.4" cy="82.3" r="1.2" fill="#8a2a1a" stroke="none"/></g>
<g transform="rotate(0 629.4 99.5)" stroke="#de4a26" stroke-width="2.3" stroke-linecap="round" fill="none"><path d="M624.6,89.5 Q629.4,99.5 634.1999999999999,109.5"/><path d="M634.1999999999999,89.5 Q629.4,99.5 624.6,109.5"/><circle cx="629.4" cy="99.5" r="1.2" fill="#8a2a1a" stroke="none"/></g>
<clipPath id="cpcg4"><path d="M130.0,316.0 C136.9,315.9 140.4,316.0 146.9,317.2 C153.4,318.4 161.9,320.4 168.8,323.2 C175.6,326.0 181.9,329.9 187.7,334.2 C193.5,338.4 199.1,343.6 203.8,348.7 C208.4,353.8 212.5,359.6 215.4,364.8 C218.3,370.0 220.9,375.0 221.4,380.0 C221.9,385.0 220.5,389.7 218.3,394.8 C216.1,399.9 212.7,405.9 208.1,410.8 C203.5,415.7 197.2,420.1 190.6,424.0 C184.0,427.9 176.8,431.7 168.8,434.2 C160.7,436.7 149.8,437.9 142.5,438.8 C135.2,439.7 131.9,439.8 125.0,439.6 C118.0,439.4 109.0,439.0 100.8,437.8 C92.6,436.6 83.3,435.0 76.0,432.7 C68.7,430.4 62.6,427.9 57.0,424.0 C51.4,420.1 46.3,414.6 42.5,409.4 C38.7,404.2 35.8,397.9 34.0,393.0 C32.2,388.1 31.6,384.7 31.8,380.0 C32.0,375.3 33.0,369.3 35.0,365.0 C37.0,360.7 39.6,358.4 44.0,354.0 C48.4,349.6 55.0,343.3 61.5,338.5 C68.0,333.7 76.0,328.8 83.3,325.4 C90.6,322.0 97.4,319.7 105.2,318.1 C113.0,316.5 123.0,316.1 130.0,316.0Z"/></clipPath><path d="M130.0,316.0 C136.9,315.9 140.4,316.0 146.9,317.2 C153.4,318.4 161.9,320.4 168.8,323.2 C175.6,326.0 181.9,329.9 187.7,334.2 C193.5,338.4 199.1,343.6 203.8,348.7 C208.4,353.8 212.5,359.6 215.4,364.8 C218.3,370.0 220.9,375.0 221.4,380.0 C221.9,385.0 220.5,389.7 218.3,394.8 C216.1,399.9 212.7,405.9 208.1,410.8 C203.5,415.7 197.2,420.1 190.6,424.0 C184.0,427.9 176.8,431.7 168.8,434.2 C160.7,436.7 149.8,437.9 142.5,438.8 C135.2,439.7 131.9,439.8 125.0,439.6 C118.0,439.4 109.0,439.0 100.8,437.8 C92.6,436.6 83.3,435.0 76.0,432.7 C68.7,430.4 62.6,427.9 57.0,424.0 C51.4,420.1 46.3,414.6 42.5,409.4 C38.7,404.2 35.8,397.9 34.0,393.0 C32.2,388.1 31.6,384.7 31.8,380.0 C32.0,375.3 33.0,369.3 35.0,365.0 C37.0,360.7 39.6,358.4 44.0,354.0 C48.4,349.6 55.0,343.3 61.5,338.5 C68.0,333.7 76.0,328.8 83.3,325.4 C90.6,322.0 97.4,319.7 105.2,318.1 C113.0,316.5 123.0,316.1 130.0,316.0Z" fill="url(#cg4)"/><path d="M130.0,316.0 C136.9,315.9 140.4,316.0 146.9,317.2 C153.4,318.4 161.9,320.4 168.8,323.2 C175.6,326.0 181.9,329.9 187.7,334.2 C193.5,338.4 199.1,343.6 203.8,348.7 C208.4,353.8 212.5,359.6 215.4,364.8 C218.3,370.0 220.9,375.0 221.4,380.0 C221.9,385.0 220.5,389.7 218.3,394.8 C216.1,399.9 212.7,405.9 208.1,410.8 C203.5,415.7 197.2,420.1 190.6,424.0 C184.0,427.9 176.8,431.7 168.8,434.2 C160.7,436.7 149.8,437.9 142.5,438.8 C135.2,439.7 131.9,439.8 125.0,439.6 C118.0,439.4 109.0,439.0 100.8,437.8 C92.6,436.6 83.3,435.0 76.0,432.7 C68.7,430.4 62.6,427.9 57.0,424.0 C51.4,420.1 46.3,414.6 42.5,409.4 C38.7,404.2 35.8,397.9 34.0,393.0 C32.2,388.1 31.6,384.7 31.8,380.0 C32.0,375.3 33.0,369.3 35.0,365.0 C37.0,360.7 39.6,358.4 44.0,354.0 C48.4,349.6 55.0,343.3 61.5,338.5 C68.0,333.7 76.0,328.8 83.3,325.4 C90.6,322.0 97.4,319.7 105.2,318.1 C113.0,316.5 123.0,316.1 130.0,316.0Z" fill="none" stroke="#d6f1fb" stroke-width="6" clip-path="url(#cpcg4)" opacity="0.9"/><path d="M130.0,316.0 C136.9,315.9 140.4,316.0 146.9,317.2 C153.4,318.4 161.9,320.4 168.8,323.2 C175.6,326.0 181.9,329.9 187.7,334.2 C193.5,338.4 199.1,343.6 203.8,348.7 C208.4,353.8 212.5,359.6 215.4,364.8 C218.3,370.0 220.9,375.0 221.4,380.0 C221.9,385.0 220.5,389.7 218.3,394.8 C216.1,399.9 212.7,405.9 208.1,410.8 C203.5,415.7 197.2,420.1 190.6,424.0 C184.0,427.9 176.8,431.7 168.8,434.2 C160.7,436.7 149.8,437.9 142.5,438.8 C135.2,439.7 131.9,439.8 125.0,439.6 C118.0,439.4 109.0,439.0 100.8,437.8 C92.6,436.6 83.3,435.0 76.0,432.7 C68.7,430.4 62.6,427.9 57.0,424.0 C51.4,420.1 46.3,414.6 42.5,409.4 C38.7,404.2 35.8,397.9 34.0,393.0 C32.2,388.1 31.6,384.7 31.8,380.0 C32.0,375.3 33.0,369.3 35.0,365.0 C37.0,360.7 39.6,358.4 44.0,354.0 C48.4,349.6 55.0,343.3 61.5,338.5 C68.0,333.7 76.0,328.8 83.3,325.4 C90.6,322.0 97.4,319.7 105.2,318.1 C113.0,316.5 123.0,316.1 130.0,316.0Z" fill="none" stroke="#3a7d90" stroke-width="1.5"/>
<ellipse cx="128" cy="380" rx="24" ry="36" fill="#fbfae6" opacity="0.8" filter="url(#bl3)"/>
<g stroke="#b5c6a0" stroke-width="3.6" fill="none" stroke-linecap="round"><path d="M69.5,363.9 Q80.4,342.7 101.4,331.1"/><path d="M71.9,367.2 Q83.2,345.5 104.6,333.7"/><path d="M72.7,372.1 Q85.7,348.8 108.7,335.2"/><path d="M80.2,370.2 Q89.5,350.6 108.8,340.8"/></g>
<g stroke="#b5c6a0" stroke-width="3.6" fill="none" stroke-linecap="round"><path d="M157.0,417.0 Q182.5,407.7 199.9,386.9"/><path d="M158.8,420.6 Q184.7,411.0 202.5,390.0"/><path d="M158.6,425.6 Q186.5,414.7 206.3,392.3"/><path d="M166.3,425.1 Q189.8,417.2 205.3,397.8"/></g>
<g transform="rotate(15 56.4 350.2)"><ellipse cx="56.4" cy="350.2" rx="6" ry="4.5" fill="#68944f"/><path d="M52.8,350.2 q1.7999999999999998,-2.25 3.5999999999999996,0 t3.5999999999999996,0" stroke="#88ac78" stroke-width="0.9" fill="none"/></g>
<g transform="rotate(-15 56.4 403.5)"><ellipse cx="56.4" cy="403.5" rx="6" ry="4.5" fill="#68944f"/><path d="M52.8,403.5 q1.7999999999999998,-2.25 3.5999999999999996,0 t3.5999999999999996,0" stroke="#88ac78" stroke-width="0.9" fill="none"/></g>
<g transform="rotate(30 189.2 348.7)"><ellipse cx="189.2" cy="348.7" rx="6" ry="5" fill="#68944f"/><path d="M185.6,348.7 q1.7999999999999998,-2.5 3.5999999999999996,0 t3.5999999999999996,0" stroke="#88ac78" stroke-width="0.9" fill="none"/></g>
<g transform="rotate(-10 151.25 425.4)"><ellipse cx="151.25" cy="425.4" rx="4.5" ry="6.5" fill="#68944f"/><path d="M148.55,425.4 q1.3499999999999999,-3.25 2.6999999999999997,0 t2.6999999999999997,0" stroke="#88ac78" stroke-width="0.9" fill="none"/></g>
<circle cx="85.5" cy="330.5" r="3" fill="#a7bfa0"/>
<circle cx="76" cy="412.3" r="3" fill="#a7bfa0"/>
<circle cx="160" cy="329.8" r="3" fill="#a7bfa0"/>
<circle cx="205" cy="408" r="2.5" fill="#a7bfa0"/>
<path d="M42.8,377.5 Q63.8,349.4 112.8,349.4" stroke="#44529a" stroke-width="1.3" fill="none" stroke-linecap="round"/><path d="M42.8,377.5 Q60.5,363.7 101.8,363.7" stroke="#44529a" stroke-width="1.3" fill="none" stroke-linecap="round"/><path d="M42.8,377.5 Q57.6,372.0 92,372" stroke="#44529a" stroke-width="1.3" fill="none" stroke-linecap="round"/><path d="M42.8,377.5 Q60.3,383.9 101,383.9" stroke="#44529a" stroke-width="1.3" fill="none" stroke-linecap="round"/><path d="M42.8,377.5 Q56.4,389.0 88,389" stroke="#44529a" stroke-width="1.3" fill="none" stroke-linecap="round"/><path d="M42.8,377.5 Q60.3,404.0 101,404" stroke="#44529a" stroke-width="1.3" fill="none" stroke-linecap="round"/><path d="M42.8,377.5 Q54.1,395.0 80.4,395" stroke="#44529a" stroke-width="1.3" fill="none" stroke-linecap="round"/><path d="M42.8,377.5 Q59.2,414.2 97.6,414.2" stroke="#44529a" stroke-width="1.3" fill="none" stroke-linecap="round"/><path d="M42.8,377.5 Q60.2,424.0 100.8,424" stroke="#44529a" stroke-width="1.3" fill="none" stroke-linecap="round"/><path d="M42.8,377.5 Q57.0,358.0 90,358" stroke="#44529a" stroke-width="1.3" fill="none" stroke-linecap="round"/>
<path d="M210.5,379.5 Q192.6,348.5 150.7,348.5" stroke="#44529a" stroke-width="1.3" fill="none" stroke-linecap="round"/><path d="M210.5,379.5 Q195.8,361.0 161.6,361" stroke="#44529a" stroke-width="1.3" fill="none" stroke-linecap="round"/><path d="M210.5,379.5 Q198.3,372.0 170,372" stroke="#44529a" stroke-width="1.3" fill="none" stroke-linecap="round"/><path d="M210.5,379.5 Q195.1,380.5 159,380.5" stroke="#44529a" stroke-width="1.3" fill="none" stroke-linecap="round"/><path d="M210.5,379.5 Q198.9,388.0 172,388" stroke="#44529a" stroke-width="1.3" fill="none" stroke-linecap="round"/><path d="M210.5,379.5 Q194.8,401.5 158.2,401.5" stroke="#44529a" stroke-width="1.3" fill="none" stroke-linecap="round"/><path d="M210.5,379.5 Q199.8,395.0 175,395" stroke="#44529a" stroke-width="1.3" fill="none" stroke-linecap="round"/><path d="M210.5,379.5 Q196.8,415.0 165,415" stroke="#44529a" stroke-width="1.3" fill="none" stroke-linecap="round"/><path d="M210.5,379.5 Q194.8,342.0 158,342" stroke="#44529a" stroke-width="1.3" fill="none" stroke-linecap="round"/><path d="M210.5,379.5 Q197.8,350.0 168,350" stroke="#44529a" stroke-width="1.3" fill="none" stroke-linecap="round"/>
<line x1="42.8" y1="377.5" x2="38" y2="360" stroke="#4d5fab" stroke-width="1.3" stroke-linecap="round"/><line x1="42.8" y1="377.5" x2="35" y2="368" stroke="#4d5fab" stroke-width="1.3" stroke-linecap="round"/><line x1="42.8" y1="377.5" x2="33" y2="378" stroke="#4d5fab" stroke-width="1.3" stroke-linecap="round"/><line x1="42.8" y1="377.5" x2="35" y2="388" stroke="#4d5fab" stroke-width="1.3" stroke-linecap="round"/><line x1="42.8" y1="377.5" x2="40" y2="395" stroke="#4d5fab" stroke-width="1.3" stroke-linecap="round"/><line x1="42.8" y1="377.5" x2="46" y2="362" stroke="#4d5fab" stroke-width="1.3" stroke-linecap="round"/>
<line x1="210.5" y1="379.5" x2="214" y2="362" stroke="#4d5fab" stroke-width="1.3" stroke-linecap="round"/><line x1="210.5" y1="379.5" x2="219" y2="370" stroke="#4d5fab" stroke-width="1.3" stroke-linecap="round"/><line x1="210.5" y1="379.5" x2="221" y2="380" stroke="#4d5fab" stroke-width="1.3" stroke-linecap="round"/><line x1="210.5" y1="379.5" x2="219" y2="390" stroke="#4d5fab" stroke-width="1.3" stroke-linecap="round"/><line x1="210.5" y1="379.5" x2="214" y2="398" stroke="#4d5fab" stroke-width="1.3" stroke-linecap="round"/><line x1="210.5" y1="379.5" x2="206" y2="362" stroke="#4d5fab" stroke-width="1.3" stroke-linecap="round"/>
<ellipse cx="42.8" cy="377.5" rx="4.2" ry="3.5" transform="rotate(30 42.8 377.5)" fill="#e8682e"/>
<ellipse cx="210.5" cy="379.5" rx="4.2" ry="3.5" transform="rotate(-30 210.5 379.5)" fill="#e8682e"/>
<g stroke="#de4a26" stroke-width="2.4" fill="none" stroke-linecap="round" stroke-linejoin="round"><path d="M106,342.6 L112.8,349.4 L108.6,361"/><path d="M96,355 L101.8,363.7 L101,372"/><path d="M96,372 L101,383.9 L94.3,389"/><path d="M96,392.3 L101,404 L97.6,414.2"/><path d="M151.5,338.4 L150.7,348.5 L151.5,358.6"/><path d="M158.2,350.2 L161.6,361 L165.8,372"/><path d="M157.4,370.4 L159,380.5 L164,385.6"/><path d="M165,394 L158.2,401.5 L159,412.5"/></g>
<g fill="#7a2a1a"><circle cx="112.8" cy="349.4" r="1.3"/><circle cx="101.8" cy="363.7" r="1.3"/><circle cx="101" cy="383.9" r="1.3"/><circle cx="101" cy="404" r="1.3"/><circle cx="150.7" cy="348.5" r="1.3"/><circle cx="161.6" cy="361" r="1.3"/><circle cx="159" cy="380.5" r="1.3"/><circle cx="158.2" cy="401.5" r="1.3"/></g>
<clipPath id="cpcg5"><path d="M360.0,316.6 C366.9,316.4 370.4,317.2 376.9,318.5 C383.4,319.8 391.5,321.6 398.8,324.6 C406.0,327.6 414.0,331.6 420.6,336.2 C427.2,340.9 433.5,347.3 438.1,352.3 C442.8,357.3 445.9,361.6 448.5,366.0 C451.1,370.4 453.1,374.7 453.8,379.0 C454.5,383.3 453.9,387.8 452.5,392.0 C451.1,396.2 449.0,400.1 445.4,404.4 C441.8,408.6 436.9,413.4 430.8,417.5 C424.7,421.6 416.8,426.3 409.0,429.2 C401.2,432.1 392.4,433.8 384.2,435.0 C376.0,436.2 369.4,436.8 360.0,436.5 C350.6,436.2 337.5,435.0 328.0,433.5 C318.5,432.0 310.4,430.4 303.1,427.7 C295.8,425.0 289.6,421.4 284.2,417.5 C278.8,413.6 274.4,409.5 271.0,404.4 C267.6,399.3 264.5,392.6 263.6,387.0 C262.7,381.4 263.8,376.1 265.5,371.0 C267.2,365.9 269.7,361.8 274.0,356.7 C278.3,351.6 284.9,345.5 291.5,340.6 C298.1,335.7 306.0,331.0 313.3,327.5 C320.6,324.0 327.4,321.3 335.2,319.5 C343.0,317.7 353.1,316.8 360.0,316.6Z"/></clipPath><path d="M360.0,316.6 C366.9,316.4 370.4,317.2 376.9,318.5 C383.4,319.8 391.5,321.6 398.8,324.6 C406.0,327.6 414.0,331.6 420.6,336.2 C427.2,340.9 433.5,347.3 438.1,352.3 C442.8,357.3 445.9,361.6 448.5,366.0 C451.1,370.4 453.1,374.7 453.8,379.0 C454.5,383.3 453.9,387.8 452.5,392.0 C451.1,396.2 449.0,400.1 445.4,404.4 C441.8,408.6 436.9,413.4 430.8,417.5 C424.7,421.6 416.8,426.3 409.0,429.2 C401.2,432.1 392.4,433.8 384.2,435.0 C376.0,436.2 369.4,436.8 360.0,436.5 C350.6,436.2 337.5,435.0 328.0,433.5 C318.5,432.0 310.4,430.4 303.1,427.7 C295.8,425.0 289.6,421.4 284.2,417.5 C278.8,413.6 274.4,409.5 271.0,404.4 C267.6,399.3 264.5,392.6 263.6,387.0 C262.7,381.4 263.8,376.1 265.5,371.0 C267.2,365.9 269.7,361.8 274.0,356.7 C278.3,351.6 284.9,345.5 291.5,340.6 C298.1,335.7 306.0,331.0 313.3,327.5 C320.6,324.0 327.4,321.3 335.2,319.5 C343.0,317.7 353.1,316.8 360.0,316.6Z" fill="url(#cg5)"/><path d="M360.0,316.6 C366.9,316.4 370.4,317.2 376.9,318.5 C383.4,319.8 391.5,321.6 398.8,324.6 C406.0,327.6 414.0,331.6 420.6,336.2 C427.2,340.9 433.5,347.3 438.1,352.3 C442.8,357.3 445.9,361.6 448.5,366.0 C451.1,370.4 453.1,374.7 453.8,379.0 C454.5,383.3 453.9,387.8 452.5,392.0 C451.1,396.2 449.0,400.1 445.4,404.4 C441.8,408.6 436.9,413.4 430.8,417.5 C424.7,421.6 416.8,426.3 409.0,429.2 C401.2,432.1 392.4,433.8 384.2,435.0 C376.0,436.2 369.4,436.8 360.0,436.5 C350.6,436.2 337.5,435.0 328.0,433.5 C318.5,432.0 310.4,430.4 303.1,427.7 C295.8,425.0 289.6,421.4 284.2,417.5 C278.8,413.6 274.4,409.5 271.0,404.4 C267.6,399.3 264.5,392.6 263.6,387.0 C262.7,381.4 263.8,376.1 265.5,371.0 C267.2,365.9 269.7,361.8 274.0,356.7 C278.3,351.6 284.9,345.5 291.5,340.6 C298.1,335.7 306.0,331.0 313.3,327.5 C320.6,324.0 327.4,321.3 335.2,319.5 C343.0,317.7 353.1,316.8 360.0,316.6Z" fill="none" stroke="#d6f1fb" stroke-width="6" clip-path="url(#cpcg5)" opacity="0.9"/><path d="M360.0,316.6 C366.9,316.4 370.4,317.2 376.9,318.5 C383.4,319.8 391.5,321.6 398.8,324.6 C406.0,327.6 414.0,331.6 420.6,336.2 C427.2,340.9 433.5,347.3 438.1,352.3 C442.8,357.3 445.9,361.6 448.5,366.0 C451.1,370.4 453.1,374.7 453.8,379.0 C454.5,383.3 453.9,387.8 452.5,392.0 C451.1,396.2 449.0,400.1 445.4,404.4 C441.8,408.6 436.9,413.4 430.8,417.5 C424.7,421.6 416.8,426.3 409.0,429.2 C401.2,432.1 392.4,433.8 384.2,435.0 C376.0,436.2 369.4,436.8 360.0,436.5 C350.6,436.2 337.5,435.0 328.0,433.5 C318.5,432.0 310.4,430.4 303.1,427.7 C295.8,425.0 289.6,421.4 284.2,417.5 C278.8,413.6 274.4,409.5 271.0,404.4 C267.6,399.3 264.5,392.6 263.6,387.0 C262.7,381.4 263.8,376.1 265.5,371.0 C267.2,365.9 269.7,361.8 274.0,356.7 C278.3,351.6 284.9,345.5 291.5,340.6 C298.1,335.7 306.0,331.0 313.3,327.5 C320.6,324.0 327.4,321.3 335.2,319.5 C343.0,317.7 353.1,316.8 360.0,316.6Z" fill="none" stroke="#3a7d90" stroke-width="1.5"/>
<g stroke="#b6c49e" stroke-width="4" fill="none" stroke-linecap="round"><path d="M297.3,353.5 Q315,342 330.8,341.4"/><path d="M338,340.6 Q346,341 349.8,345"/><path d="M300.2,357 Q322,346 351,349.4"/><path d="M306,359.5 Q326,351 345.4,353.75"/><path d="M313.3,361 Q330,356 344,358"/><path d="M393,407.3 Q412,400 423.5,392.7"/><path d="M391.5,414 Q416,408 428,397"/><path d="M393,420.4 Q418,416 431,404"/><path d="M398,401 Q410,396 418,388"/></g>
<g transform="rotate(15 288.5 350.8)"><ellipse cx="288.5" cy="350.8" rx="6" ry="4.5" fill="#68944f"/><path d="M284.9,350.8 q1.7999999999999998,-2.25 3.5999999999999996,0 t3.5999999999999996,0" stroke="#88ac78" stroke-width="0.9" fill="none"/></g>
<g transform="rotate(-10 288.5 400)"><ellipse cx="288.5" cy="400" rx="6" ry="4.5" fill="#68944f"/><path d="M284.9,400 q1.7999999999999998,-2.25 3.5999999999999996,0 t3.5999999999999996,0" stroke="#88ac78" stroke-width="0.9" fill="none"/></g>
<g transform="rotate(30 421.4 347.2)"><ellipse cx="421.4" cy="347.2" rx="5" ry="5" fill="#68944f"/><path d="M418.4,347.2 q1.5,-2.5 3.0,0 t3.0,0" stroke="#88ac78" stroke-width="0.9" fill="none"/></g>
<g transform="rotate(-15 384.2 423.3)"><ellipse cx="384.2" cy="423.3" rx="4.5" ry="7" fill="#68944f"/><path d="M381.5,423.3 q1.3499999999999999,-3.5 2.6999999999999997,0 t2.6999999999999997,0" stroke="#88ac78" stroke-width="0.9" fill="none"/></g>
<circle cx="318.4" cy="331.9" r="3" fill="#a7bfa0"/>
<circle cx="304.6" cy="413.1" r="3" fill="#a7bfa0"/>
<circle cx="392.2" cy="330.4" r="3" fill="#a7bfa0"/>
<circle cx="441" cy="396.4" r="3" fill="#a7bfa0"/>
<circle cx="328.6" cy="391.6" r="23" fill="url(#nucg2)"/>
<g stroke="#e0602a" stroke-width="1.5" fill="none" stroke-linecap="round"><path d="M326.6,377.6 q4,6 2,12 t4,12"/><path d="M319.6,387.6 q3,6 0,10 t3,8"/><path d="M336.6,385.6 q-3,6 0,12"/><path d="M324.6,395.6 l8,-2"/></g>
<circle cx="341" cy="385.4" r="3" fill="#d84a2a"/>
<circle cx="328.6" cy="391.6" r="23" fill="none" stroke="#2e5a3a" stroke-width="3" stroke-dasharray="5 3.4"/>
<circle cx="393" cy="379.5" r="22" fill="url(#nucg2)"/>
<g stroke="#e0602a" stroke-width="1.5" fill="none" stroke-linecap="round"><path d="M391,365.5 q4,6 2,12 t4,12"/><path d="M384,375.5 q3,6 0,10 t3,8"/><path d="M401,373.5 q-3,6 0,12"/><path d="M389,383.5 l8,-2"/></g>
<circle cx="390.7" cy="392.7" r="3" fill="#d84a2a"/>
<circle cx="393" cy="379.5" r="22" fill="none" stroke="#2e5a3a" stroke-width="3" stroke-dasharray="5 3.4"/>
<line x1="280" y1="377" x2="279.8" y2="356.7" stroke="#4d5fab" stroke-width="2" stroke-linecap="round"/><line x1="280" y1="377" x2="290" y2="361" stroke="#4d5fab" stroke-width="2" stroke-linecap="round"/><line x1="280" y1="377" x2="311.9" y2="365.4" stroke="#4d5fab" stroke-width="2" stroke-linecap="round"/><line x1="280" y1="377" x2="303" y2="372.7" stroke="#4d5fab" stroke-width="2" stroke-linecap="round"/><line x1="280" y1="377" x2="301.7" y2="381.5" stroke="#4d5fab" stroke-width="2" stroke-linecap="round"/><line x1="280" y1="377" x2="269.6" y2="374.2" stroke="#4d5fab" stroke-width="2" stroke-linecap="round"/><line x1="280" y1="377" x2="268.9" y2="378.5" stroke="#4d5fab" stroke-width="2" stroke-linecap="round"/><line x1="280" y1="377" x2="274" y2="387.3" stroke="#4d5fab" stroke-width="2" stroke-linecap="round"/><line x1="280" y1="377" x2="276.9" y2="395.6" stroke="#4d5fab" stroke-width="2" stroke-linecap="round"/><line x1="280" y1="377" x2="286.4" y2="396.4" stroke="#4d5fab" stroke-width="2" stroke-linecap="round"/><line x1="280" y1="377" x2="297.3" y2="390.5" stroke="#4d5fab" stroke-width="2" stroke-linecap="round"/><line x1="280" y1="377" x2="272" y2="364" stroke="#4d5fab" stroke-width="2" stroke-linecap="round"/>
<line x1="432.3" y1="372.7" x2="416.25" y2="359.6" stroke="#4d5fab" stroke-width="2" stroke-linecap="round"/><line x1="432.3" y1="372.7" x2="426.5" y2="353.75" stroke="#4d5fab" stroke-width="2" stroke-linecap="round"/><line x1="432.3" y1="372.7" x2="430.8" y2="361" stroke="#4d5fab" stroke-width="2" stroke-linecap="round"/><line x1="432.3" y1="372.7" x2="439.6" y2="364" stroke="#4d5fab" stroke-width="2" stroke-linecap="round"/><line x1="432.3" y1="372.7" x2="442.5" y2="374.2" stroke="#4d5fab" stroke-width="2" stroke-linecap="round"/><line x1="432.3" y1="372.7" x2="441" y2="380" stroke="#4d5fab" stroke-width="2" stroke-linecap="round"/><line x1="432.3" y1="372.7" x2="413.3" y2="368.3" stroke="#4d5fab" stroke-width="2" stroke-linecap="round"/><line x1="432.3" y1="372.7" x2="416.25" y2="378.5" stroke="#4d5fab" stroke-width="2" stroke-linecap="round"/><line x1="432.3" y1="372.7" x2="419.2" y2="389.8" stroke="#4d5fab" stroke-width="2" stroke-linecap="round"/><line x1="432.3" y1="372.7" x2="426.5" y2="395.6" stroke="#4d5fab" stroke-width="2" stroke-linecap="round"/><line x1="432.3" y1="372.7" x2="432.3" y2="398.5" stroke="#4d5fab" stroke-width="2" stroke-linecap="round"/><line x1="432.3" y1="372.7" x2="439.6" y2="386.9" stroke="#4d5fab" stroke-width="2" stroke-linecap="round"/>
<ellipse cx="280" cy="377" rx="4.2" ry="3.5" transform="rotate(30 280 377)" fill="#e8682e"/>
<ellipse cx="432.3" cy="372.7" rx="4.2" ry="3.5" transform="rotate(-20 432.3 372.7)" fill="#e8682e"/>
<clipPath id="cpcg6"><path d="M618.6,355.0 C619.6,355.0 620.8,346.1 622.4,341.5 C624.0,336.9 626.5,327.8 629.0,324.0 C631.5,320.2 635.5,317.8 639.2,316.0 C642.9,314.2 648.9,312.4 653.8,312.3 C658.6,312.2 666.2,313.2 671.2,315.2 C676.3,317.2 682.9,321.2 687.3,325.4 C691.7,329.6 697.1,337.2 700.4,342.9 C703.7,348.6 707.7,357.0 709.2,363.3 C710.7,369.6 710.8,379.9 710.6,385.0 C710.4,390.1 709.7,392.8 707.7,397.0 C705.7,401.2 701.2,409.2 697.5,413.1 C693.8,417.0 688.4,421.1 682.9,423.3 C677.4,425.5 667.6,427.7 661.0,427.7 C654.4,427.7 644.7,425.5 639.2,423.3 C633.7,421.1 627.7,416.4 624.6,413.1 C621.5,409.8 619.6,405.6 618.5,401.0 C617.4,396.4 617.9,382.9 617.3,382.5 C616.7,382.1 616.0,393.9 614.2,398.5 C612.4,403.1 608.7,409.4 605.4,413.1 C602.1,416.8 596.5,421.1 592.3,423.3 C588.1,425.5 582.1,427.4 577.7,427.7 C573.3,428.0 567.4,427.1 563.1,425.5 C558.8,423.9 553.1,419.8 549.0,417.0 C544.9,414.2 539.3,410.1 536.0,407.0 C532.7,403.9 529.0,399.7 527.0,396.0 C525.0,392.3 523.5,387.4 523.0,382.5 C522.5,377.6 522.5,369.4 523.8,363.3 C525.0,357.2 527.9,347.2 531.0,341.5 C534.1,335.8 539.6,329.3 544.2,325.4 C548.8,321.5 556.2,317.1 561.7,315.2 C567.2,313.3 574.9,312.6 580.6,313.0 C586.3,313.4 595.2,315.8 599.6,318.1 C604.0,320.4 607.4,324.8 609.8,328.3 C612.2,331.8 614.3,337.5 615.6,341.5 C616.9,345.5 617.6,355.0 618.6,355.0Z"/></clipPath><path d="M618.6,355.0 C619.6,355.0 620.8,346.1 622.4,341.5 C624.0,336.9 626.5,327.8 629.0,324.0 C631.5,320.2 635.5,317.8 639.2,316.0 C642.9,314.2 648.9,312.4 653.8,312.3 C658.6,312.2 666.2,313.2 671.2,315.2 C676.3,317.2 682.9,321.2 687.3,325.4 C691.7,329.6 697.1,337.2 700.4,342.9 C703.7,348.6 707.7,357.0 709.2,363.3 C710.7,369.6 710.8,379.9 710.6,385.0 C710.4,390.1 709.7,392.8 707.7,397.0 C705.7,401.2 701.2,409.2 697.5,413.1 C693.8,417.0 688.4,421.1 682.9,423.3 C677.4,425.5 667.6,427.7 661.0,427.7 C654.4,427.7 644.7,425.5 639.2,423.3 C633.7,421.1 627.7,416.4 624.6,413.1 C621.5,409.8 619.6,405.6 618.5,401.0 C617.4,396.4 617.9,382.9 617.3,382.5 C616.7,382.1 616.0,393.9 614.2,398.5 C612.4,403.1 608.7,409.4 605.4,413.1 C602.1,416.8 596.5,421.1 592.3,423.3 C588.1,425.5 582.1,427.4 577.7,427.7 C573.3,428.0 567.4,427.1 563.1,425.5 C558.8,423.9 553.1,419.8 549.0,417.0 C544.9,414.2 539.3,410.1 536.0,407.0 C532.7,403.9 529.0,399.7 527.0,396.0 C525.0,392.3 523.5,387.4 523.0,382.5 C522.5,377.6 522.5,369.4 523.8,363.3 C525.0,357.2 527.9,347.2 531.0,341.5 C534.1,335.8 539.6,329.3 544.2,325.4 C548.8,321.5 556.2,317.1 561.7,315.2 C567.2,313.3 574.9,312.6 580.6,313.0 C586.3,313.4 595.2,315.8 599.6,318.1 C604.0,320.4 607.4,324.8 609.8,328.3 C612.2,331.8 614.3,337.5 615.6,341.5 C616.9,345.5 617.6,355.0 618.6,355.0Z" fill="url(#cg6)"/><path d="M618.6,355.0 C619.6,355.0 620.8,346.1 622.4,341.5 C624.0,336.9 626.5,327.8 629.0,324.0 C631.5,320.2 635.5,317.8 639.2,316.0 C642.9,314.2 648.9,312.4 653.8,312.3 C658.6,312.2 666.2,313.2 671.2,315.2 C676.3,317.2 682.9,321.2 687.3,325.4 C691.7,329.6 697.1,337.2 700.4,342.9 C703.7,348.6 707.7,357.0 709.2,363.3 C710.7,369.6 710.8,379.9 710.6,385.0 C710.4,390.1 709.7,392.8 707.7,397.0 C705.7,401.2 701.2,409.2 697.5,413.1 C693.8,417.0 688.4,421.1 682.9,423.3 C677.4,425.5 667.6,427.7 661.0,427.7 C654.4,427.7 644.7,425.5 639.2,423.3 C633.7,421.1 627.7,416.4 624.6,413.1 C621.5,409.8 619.6,405.6 618.5,401.0 C617.4,396.4 617.9,382.9 617.3,382.5 C616.7,382.1 616.0,393.9 614.2,398.5 C612.4,403.1 608.7,409.4 605.4,413.1 C602.1,416.8 596.5,421.1 592.3,423.3 C588.1,425.5 582.1,427.4 577.7,427.7 C573.3,428.0 567.4,427.1 563.1,425.5 C558.8,423.9 553.1,419.8 549.0,417.0 C544.9,414.2 539.3,410.1 536.0,407.0 C532.7,403.9 529.0,399.7 527.0,396.0 C525.0,392.3 523.5,387.4 523.0,382.5 C522.5,377.6 522.5,369.4 523.8,363.3 C525.0,357.2 527.9,347.2 531.0,341.5 C534.1,335.8 539.6,329.3 544.2,325.4 C548.8,321.5 556.2,317.1 561.7,315.2 C567.2,313.3 574.9,312.6 580.6,313.0 C586.3,313.4 595.2,315.8 599.6,318.1 C604.0,320.4 607.4,324.8 609.8,328.3 C612.2,331.8 614.3,337.5 615.6,341.5 C616.9,345.5 617.6,355.0 618.6,355.0Z" fill="none" stroke="#d6f1fb" stroke-width="6" clip-path="url(#cpcg6)" opacity="0.9"/><path d="M618.6,355.0 C619.6,355.0 620.8,346.1 622.4,341.5 C624.0,336.9 626.5,327.8 629.0,324.0 C631.5,320.2 635.5,317.8 639.2,316.0 C642.9,314.2 648.9,312.4 653.8,312.3 C658.6,312.2 666.2,313.2 671.2,315.2 C676.3,317.2 682.9,321.2 687.3,325.4 C691.7,329.6 697.1,337.2 700.4,342.9 C703.7,348.6 707.7,357.0 709.2,363.3 C710.7,369.6 710.8,379.9 710.6,385.0 C710.4,390.1 709.7,392.8 707.7,397.0 C705.7,401.2 701.2,409.2 697.5,413.1 C693.8,417.0 688.4,421.1 682.9,423.3 C677.4,425.5 667.6,427.7 661.0,427.7 C654.4,427.7 644.7,425.5 639.2,423.3 C633.7,421.1 627.7,416.4 624.6,413.1 C621.5,409.8 619.6,405.6 618.5,401.0 C617.4,396.4 617.9,382.9 617.3,382.5 C616.7,382.1 616.0,393.9 614.2,398.5 C612.4,403.1 608.7,409.4 605.4,413.1 C602.1,416.8 596.5,421.1 592.3,423.3 C588.1,425.5 582.1,427.4 577.7,427.7 C573.3,428.0 567.4,427.1 563.1,425.5 C558.8,423.9 553.1,419.8 549.0,417.0 C544.9,414.2 539.3,410.1 536.0,407.0 C532.7,403.9 529.0,399.7 527.0,396.0 C525.0,392.3 523.5,387.4 523.0,382.5 C522.5,377.6 522.5,369.4 523.8,363.3 C525.0,357.2 527.9,347.2 531.0,341.5 C534.1,335.8 539.6,329.3 544.2,325.4 C548.8,321.5 556.2,317.1 561.7,315.2 C567.2,313.3 574.9,312.6 580.6,313.0 C586.3,313.4 595.2,315.8 599.6,318.1 C604.0,320.4 607.4,324.8 609.8,328.3 C612.2,331.8 614.3,337.5 615.6,341.5 C616.9,345.5 617.6,355.0 618.6,355.0Z" fill="none" stroke="#3a7d90" stroke-width="1.5"/>
<g stroke="#c4c8a8" stroke-width="4.4" fill="none" stroke-linecap="round"><path d="M563,349 Q574,340 586,339"/><path d="M592,337.5 Q600,337 607,340"/><path d="M555,357 Q575,344 607,345.5"/><path d="M556,362 Q578,351 603,352"/><path d="M559,367 Q580,358 600,358"/></g>
<g stroke="#c4c8a8" stroke-width="4.4" fill="none" stroke-linecap="round"><path d="M650,420 Q680,412 691,383"/><path d="M648,414 Q674,406 686,380"/><path d="M650,408 Q669,401 681,384"/><path d="M653,402 Q667,397 676,386"/></g>
<g transform="rotate(30 542.7 343.6)"><ellipse cx="542.7" cy="343.6" rx="6" ry="4.5" fill="#68944f"/><path d="M539.1,343.6 q1.7999999999999998,-2.25 3.5999999999999996,0 t3.5999999999999996,0" stroke="#88ac78" stroke-width="0.9" fill="none"/></g>
<g transform="rotate(-15 542.7 396.4)"><ellipse cx="542.7" cy="396.4" rx="6" ry="4.5" fill="#68944f"/><path d="M539.1,396.4 q1.7999999999999998,-2.25 3.5999999999999996,0 t3.5999999999999996,0" stroke="#88ac78" stroke-width="0.9" fill="none"/></g>
<g transform="rotate(40 680 341.5)"><ellipse cx="680" cy="341.5" rx="6" ry="5" fill="#68944f"/><path d="M676.4,341.5 q1.7999999999999998,-2.5 3.5999999999999996,0 t3.5999999999999996,0" stroke="#88ac78" stroke-width="0.9" fill="none"/></g>
<g transform="rotate(-15 630.4 403.6)"><ellipse cx="630.4" cy="403.6" rx="4.5" ry="7" fill="#68944f"/><path d="M627.6999999999999,403.6 q1.3499999999999999,-3.5 2.6999999999999997,0 t2.6999999999999997,0" stroke="#88ac78" stroke-width="0.9" fill="none"/></g>
<circle cx="572.6" cy="322.5" r="3.2" fill="#adbcaa"/><circle cx="572.6" cy="322.5" r="1.3" fill="#c8d6cc"/>
<circle cx="563.1" cy="405.1" r="3.2" fill="#adbcaa"/><circle cx="563.1" cy="405.1" r="1.3" fill="#c8d6cc"/>
<circle cx="658.1" cy="330.5" r="3.2" fill="#adbcaa"/><circle cx="658.1" cy="330.5" r="1.3" fill="#c8d6cc"/>
<circle cx="697.5" cy="392" r="3.2" fill="#adbcaa"/><circle cx="697.5" cy="392" r="1.3" fill="#c8d6cc"/>
<g fill="#e0643a"><rect x="530" y="368.5" width="11" height="5.5" transform="rotate(35 535.4 371.4)"/><rect x="533" y="366" width="5" height="5" transform="rotate(35 535.4 371.4)"/><rect x="686" y="361" width="12" height="6" transform="rotate(-20 691.7 364)"/><rect x="692" y="357" width="5" height="5" transform="rotate(-20 691.7 364)"/></g>
<circle cx="585.35" cy="382.75" r="22.3" fill="#1f6b25"/>
<circle cx="585.35" cy="382.75" r="18.4" fill="#e2cf3a"/>
<circle cx="585.35" cy="382.75" r="17.2" fill="#f4ab22"/>
<circle cx="577.7" cy="375.7" r="4.5" fill="#e83c1e"/>
<circle cx="648.25" cy="360.75" r="22.3" fill="#1f6b25"/>
<circle cx="648.25" cy="360.75" r="18.4" fill="#e2cf3a"/>
<circle cx="648.25" cy="360.75" r="17.2" fill="#f4ab22"/>
<circle cx="645.7" cy="370.6" r="4.5" fill="#e83c1e"/>
<filter id="nz2" x="0" y="0" width="100%" height="100%"><feTurbulence type="fractalNoise" baseFrequency="0.3" numOctaves="2" seed="11"/><feColorMatrix type="matrix" values="0 0 0 0 0  0 0 0 0 0  0 0 0 0 0  0 0 0 -2.2 1.2"/></filter>
<rect x="164.8" y="200.2" width="67.4" height="68" fill="#070a09"/>
<path d="M182,222 Q195,208 212,216 Q222,228 220,248" fill="none" stroke="#1e5a36" stroke-width="8" filter="url(#bl4)" opacity="0.3"/>
<path d="M218,228 Q224,240 216,254" fill="none" stroke="#2a7a48" stroke-width="3" filter="url(#bl1)" opacity="0.3"/>
<circle cx="198.4" cy="238" r="17" fill="url(#m1b)"/>
<clipPath id="m1c"><circle cx="198.4" cy="238" r="15"/></clipPath><rect x="180" y="220" width="37" height="37" fill="#070a09" filter="url(#nz2)" clip-path="url(#m1c)" opacity="0.35"/>
<rect x="213.7" y="254.0" width="14.5" height="2.4" fill="#fff"/><text x="230.7" y="265.5" class="sb" text-anchor="end" style="fill:#fff">5 µm</text>
<rect x="391.5" y="200" width="68.5" height="68" fill="#05060d"/>
<ellipse cx="425.4" cy="228" rx="27" ry="25" fill="url(#m2b)" filter="url(#bl1)"/>
<clipPath id="m2c"><ellipse cx="425.4" cy="228" rx="23" ry="21"/></clipPath><rect x="398" y="203" width="56" height="50" fill="#05060d" filter="url(#nz2)" clip-path="url(#m2c)" opacity="0.35"/>
<path d="M442,215 Q448,224 445,236" fill="none" stroke="#38c058" stroke-width="4" filter="url(#bl1)" opacity="0.85"/>
<path d="M407,220 Q402,230 407,240" fill="none" stroke="#2a9a80" stroke-width="3" filter="url(#bl1)" opacity="0.45"/>
<rect x="441.5" y="253.8" width="14.5" height="2.4" fill="#fff"/><text x="458.5" y="265.3" class="sb" text-anchor="end" style="fill:#fff">5 µm</text>
<rect x="646.8" y="200" width="67.4" height="68" fill="#040806"/>
<g stroke="#1f6a2a" stroke-width="0.9" opacity="0.6"><line x1="698.0" y1="233.0" x2="711.0" y2="233.0"/><line x1="697.2" y1="237.7" x2="709.6" y2="241.6"/><line x1="694.9" y1="242.0" x2="705.6" y2="249.4"/><line x1="691.2" y1="245.5" x2="699.3" y2="255.7"/><line x1="686.5" y1="247.9" x2="691.2" y2="260.0"/><line x1="681.3" y1="249.0" x2="682.2" y2="261.9"/><line x1="675.9" y1="248.6" x2="673.0" y2="261.2"/><line x1="670.9" y1="246.8" x2="664.3" y2="258.0"/><line x1="666.7" y1="243.8" x2="657.1" y2="252.6"/><line x1="663.7" y1="239.8" x2="652.0" y2="245.4"/><line x1="662.2" y1="235.3" x2="649.3" y2="237.1"/><line x1="662.2" y1="230.5" x2="649.4" y2="228.4"/><line x1="663.9" y1="225.9" x2="652.2" y2="220.2"/><line x1="666.9" y1="222.0" x2="657.5" y2="213.1"/><line x1="671.2" y1="219.1" x2="664.8" y2="207.7"/><line x1="676.2" y1="217.4" x2="673.5" y2="204.7"/><line x1="681.6" y1="217.1" x2="682.7" y2="204.1"/><line x1="686.8" y1="218.2" x2="691.7" y2="206.2"/><line x1="691.4" y1="220.6" x2="699.7" y2="210.6"/><line x1="695.0" y1="224.2" x2="705.9" y2="217.0"/><line x1="697.3" y1="228.5" x2="709.8" y2="224.9"/></g>
<g fill="none" stroke="#2a8a3a" stroke-width="1" opacity="0.8"><path d="M659.5,232.5 Q680,205 701,232.5"/><path d="M659.5,232.5 Q680,260 701,232.5"/><path d="M659.5,232.5 Q680,218 701,232.5"/><path d="M659.5,232.5 Q680,247 701,232.5"/></g>
<path d="M659.5,232.5 Q680,195 701,232.5 Q680,270 659.5,232.5Z" fill="none" stroke="#2a9a3c" stroke-width="3.4" opacity="0.75" filter="url(#bl1)"/>
<path d="M659.5,232.5 Q680,195 701,232.5 Q680,270 659.5,232.5Z" fill="none" stroke="#45d055" stroke-width="1.6"/>
<path d="M677,210 Q684,222 684.5,233 Q686,246 683,257 Q675,246 675.5,233 Q673,222 677,210Z" fill="#2f66d0" filter="url(#bl2)"/>
<g fill="#4a8af0" filter="url(#bl2)" opacity="0.8"><circle cx="679" cy="220" r="2.5"/><circle cx="681" cy="236" r="3"/><circle cx="681" cy="248" r="2.2"/></g>
<rect x="695.7" y="253.8" width="14.5" height="2.4" fill="#fff"/><text x="712.7" y="265.3" class="sb" text-anchor="end" style="fill:#fff">5 µm</text>
<rect x="164.4" y="513.6" width="68.2" height="68.4" fill="#07071f"/>
<clipPath id="m4c"><rect x="164.4" y="513.6" width="68.2" height="68.4"/></clipPath><g clip-path="url(#m4c)"><ellipse cx="175" cy="585" rx="22" ry="16" fill="none" stroke="#1c2070" stroke-width="5" opacity="0.25" filter="url(#bl4)"/></g>
<ellipse cx="182" cy="541" rx="8.5" ry="14" transform="rotate(-10 182 541)" fill="url(#bb)"/>
<ellipse cx="218" cy="554.5" rx="10" ry="13" transform="rotate(10 218 554.5)" fill="url(#bb)"/>
<line x1="191" y1="544" x2="209" y2="553" stroke="#2aa048" stroke-width="3.5" opacity="0.6" filter="url(#bl1)"/><line x1="192" y1="544.5" x2="208" y2="552.5" stroke="#50e070" stroke-width="1.6"/>
<rect x="214.1" y="567.8" width="14.5" height="2.4" fill="#fff"/><text x="231.1" y="579.3" class="sb" text-anchor="end" style="fill:#fff">5 µm</text>
<rect x="392" y="513.6" width="68" height="68.4" fill="#07071c"/>
<ellipse cx="414" cy="537" rx="15" ry="9" transform="rotate(-42 414 537)" fill="url(#bb)"/>
<ellipse cx="437" cy="557" rx="14" ry="9" transform="rotate(-42 437 557)" fill="url(#bb)"/>
<g stroke="#2aa848" stroke-width="1.3" opacity="0.75"><line x1="413.4" y1="545.0" x2="426.4" y2="560.0"/><line x1="416.2" y1="542.0" x2="429.2" y2="557.0"/><line x1="419.0" y1="539.0" x2="432.0" y2="554.0"/><line x1="421.8" y1="536.0" x2="434.8" y2="551.0"/><line x1="424.6" y1="533.0" x2="437.6" y2="548.0"/></g>
<rect x="441.5" y="567.8" width="14.5" height="2.4" fill="#fff"/><text x="458.5" y="579.3" class="sb" text-anchor="end" style="fill:#fff">5 µm</text>
<filter id="nz" x="0" y="0" width="100%" height="100%"><feTurbulence type="fractalNoise" baseFrequency="0.11" numOctaves="3" seed="7"/><feColorMatrix type="matrix" values="0 0 0 0 0  0 0 0 0 0  0 0 0 0 0  0 0 0 -1.6 1.0"/></filter>
<clipPath id="emc"><rect x="633.5" y="448.5" width="81" height="133.5"/></clipPath>
<g clip-path="url(#emc)">
<rect x="633" y="448" width="82" height="134" fill="#868686"/>
<path d="M633,448 L657,448 L655,462 L651,478 L646,490 L633,500Z" fill="#bcbcbc" filter="url(#bl1)"/>
<path d="M633,505 L650,512 L655,530 L645,545 L633,550Z" fill="#9c9c9c" filter="url(#bl4)"/>
<path d="M716,510 L704,526 L693,540 L685,556 L680,582 L716,582Z" fill="#d4d4d4" filter="url(#bl1)"/>
<path d="M660,448 L700,448 L714,460 L714,505 L690,520 L665,505 L655,480Z" fill="#7e7e7e" opacity="0.6" filter="url(#bl4)"/>
<rect x="633" y="448" width="82" height="134" fill="#000" filter="url(#nz)" opacity="0.42"/>
<path d="M676,497 L690,500 L690,520 L680,523 L675,512Z" fill="#cfcfcf" filter="url(#bl2)"/>
<line x1="677" y1="506" x2="679" y2="522" stroke="#222" stroke-width="2" filter="url(#bl2)"/>
<g fill="none" stroke="#2a2a2a" stroke-width="3" stroke-linecap="round" filter="url(#bl2)"><path d="M672,455 q4,-4 8,-1 q3,4 7,1 q4,-2 5,3"/><path d="M676,462 q3,3 7,1 q4,-3 6,2"/><path d="M684,468 q-3,2 -1,4"/><path d="M645,545 q5,-5 9,-1 q3,4 7,0"/><path d="M650,552 q4,3 8,0 q5,-3 8,2"/><path d="M656,560 q3,2 6,0"/><path d="M663,546 q4,1 5,4"/></g>
</g>
<rect x="695" y="566.5" width="12" height="2.2" fill="#111"/>
<text x="713" y="578" class="sb" text-anchor="end" style="fill:#1a1a1a">5 µm</text>
</g>
</svg></body></html>
